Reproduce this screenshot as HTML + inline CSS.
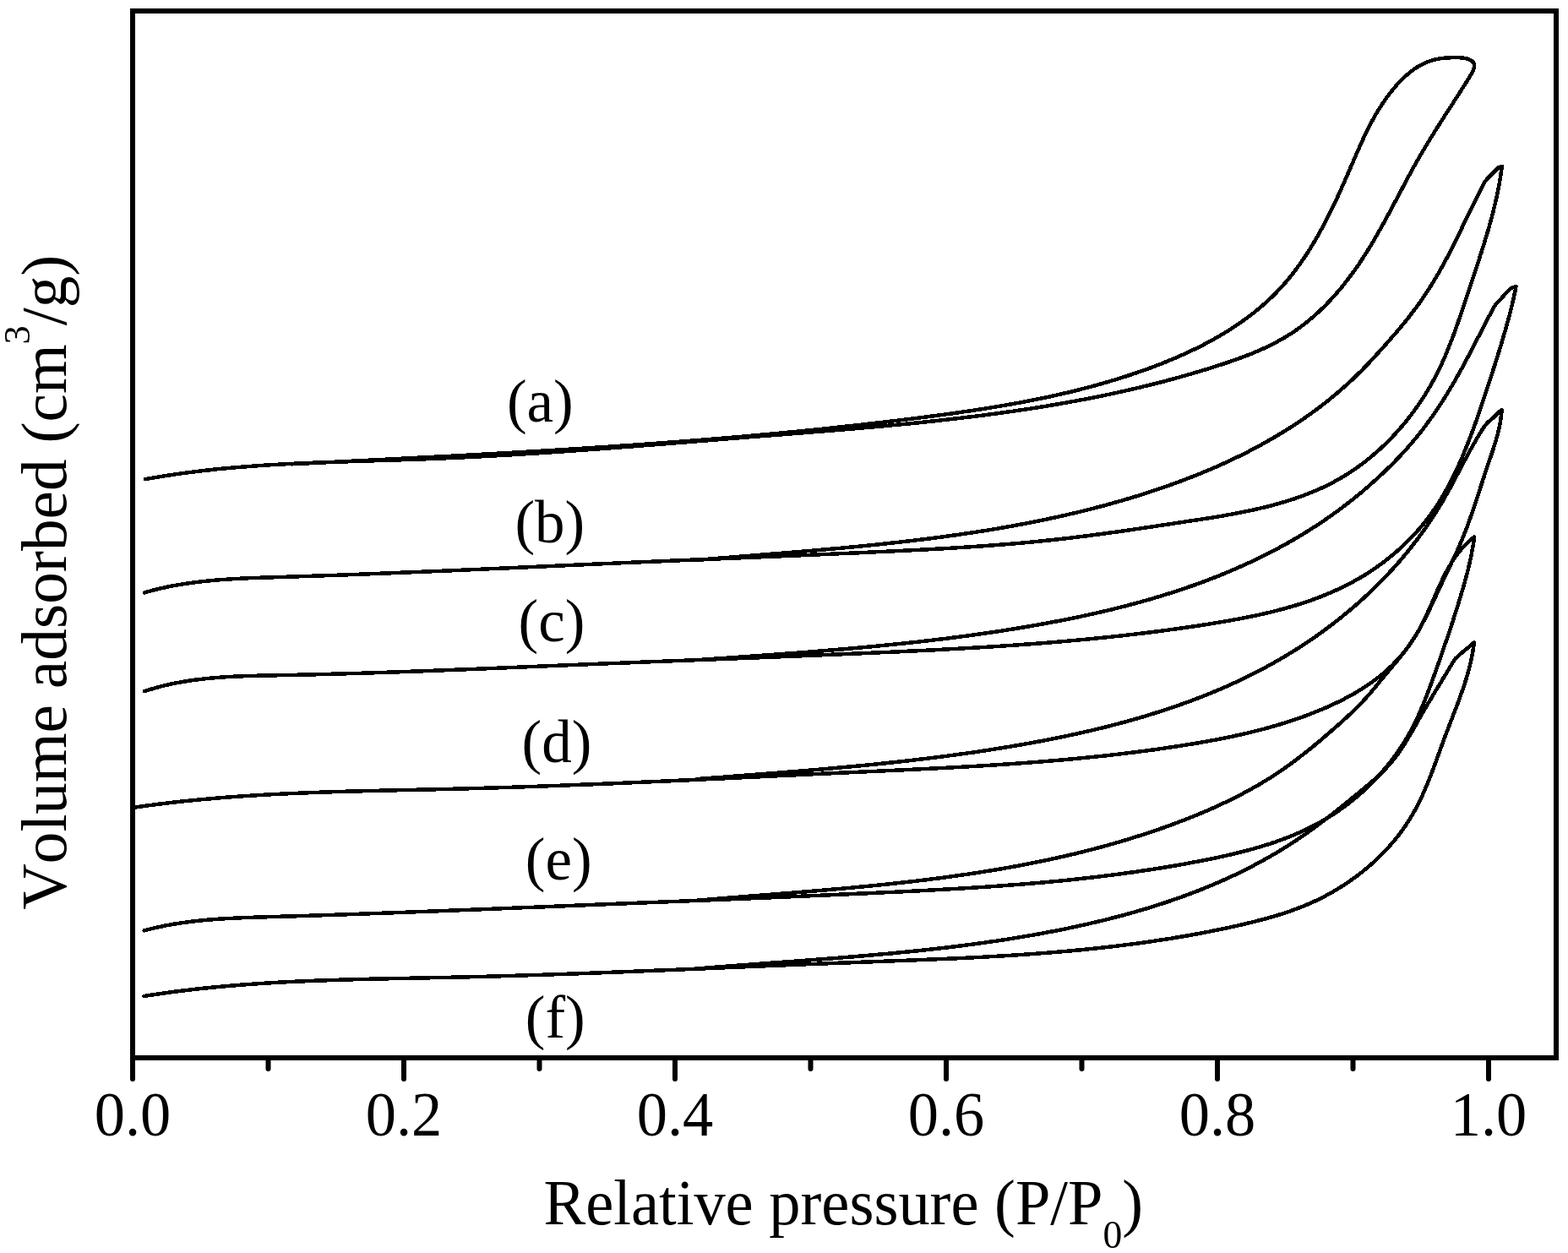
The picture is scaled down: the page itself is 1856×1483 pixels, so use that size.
<!DOCTYPE html>
<html><head><meta charset="utf-8"><title>Isotherms</title>
<style>html,body{margin:0;padding:0;background:#fff;width:1856px;height:1483px;overflow:hidden}svg{display:block}</style>
</head><body>
<svg width="1856" height="1483" viewBox="0 0 1856 1483">
<style>
text{font-family:"Liberation Serif","Times New Roman",serif;fill:#000;font-kerning:none;font-feature-settings:"kern" 0}
.t{font-size:72.5px}
.lb{font-size:71px}

</style>
<rect x="157" y="13" width="1685" height="1239" fill="none" stroke="#000" stroke-width="6"/>
<path d="M157.0 1252V1277 M317.5 1252V1265 M478.0 1252V1277 M638.5 1252V1265 M799.0 1252V1277 M959.5 1252V1265 M1120.0 1252V1277 M1280.5 1252V1265 M1441.0 1252V1277 M1601.5 1252V1265 M1762.0 1252V1277" stroke="#000" stroke-width="6" stroke-linecap="round" fill="none"/>
<text transform="translate(157.0 1344) scale(1 1.035)" text-anchor="middle" class="t">0.0</text>
<text transform="translate(478.0 1344) scale(1 1.035)" text-anchor="middle" class="t">0.2</text>
<text transform="translate(799.0 1344) scale(1 1.035)" text-anchor="middle" class="t">0.4</text>
<text transform="translate(1120.0 1344) scale(1 1.035)" text-anchor="middle" class="t">0.6</text>
<text transform="translate(1441.0 1344) scale(1 1.035)" text-anchor="middle" class="t">0.8</text>
<text transform="translate(1762.0 1344) scale(1 1.035)" text-anchor="middle" class="t">1.0</text>
<g fill="none" stroke="#000" stroke-width="4.5" stroke-linejoin="round" stroke-linecap="round" shape-rendering="crispEdges"><path d="M172.0 567.2C174.0 566.8 175.9 566.5 177.9 566.1C179.9 565.8 181.8 565.4 183.8 565.1C185.8 564.8 187.7 564.4 189.7 564.1C191.7 563.8 193.6 563.5 195.6 563.2C197.6 562.9 199.5 562.6 201.5 562.3C203.5 562.0 205.5 561.7 207.4 561.4C209.4 561.1 211.4 560.8 213.4 560.5C215.3 560.3 217.3 560.0 219.3 559.7C221.3 559.5 223.3 559.2 225.2 559.0C227.2 558.7 229.2 558.5 231.2 558.2C233.2 558.0 235.1 557.7 237.1 557.5C239.1 557.3 241.1 557.0 243.1 556.8C245.1 556.6 247.0 556.4 249.0 556.2C251.0 555.9 253.0 555.7 255.0 555.5C257.0 555.3 259.0 555.1 260.9 554.9C262.9 554.7 264.9 554.5 266.9 554.4C268.9 554.2 270.9 554.0 272.9 553.8C274.9 553.6 276.9 553.5 278.8 553.3C280.8 553.1 282.8 553.0 284.8 552.8C286.8 552.6 288.8 552.5 290.8 552.3C292.8 552.2 294.8 552.0 296.8 551.9C298.8 551.7 300.8 551.6 302.8 551.4C304.8 551.3 306.8 551.1 308.7 551.0C310.7 550.9 312.7 550.7 314.7 550.6C316.7 550.5 318.7 550.4 320.7 550.2C322.7 550.1 324.7 550.0 326.7 549.9C328.7 549.8 330.7 549.7 332.7 549.5C334.7 549.4 336.7 549.3 338.7 549.2C340.7 549.1 342.7 549.0 344.7 548.9C346.7 548.8 348.7 548.7 350.7 548.6C352.7 548.5 354.7 548.4 356.7 548.3C358.7 548.3 360.7 548.2 362.7 548.1C364.7 548.0 366.7 547.9 368.7 547.8C370.7 547.7 372.8 547.7 374.8 547.6C376.8 547.5 378.8 547.4 380.8 547.3C382.8 547.3 384.8 547.2 386.8 547.1C388.8 547.0 390.8 547.0 392.8 546.9C394.8 546.8 396.8 546.7 398.8 546.7C400.8 546.6 402.8 546.5 404.8 546.5C406.8 546.4 408.8 546.3 410.8 546.3C412.8 546.2 414.9 546.1 416.9 546.1C418.9 546.0 420.9 546.0 422.9 545.9C424.9 545.8 426.9 545.8 428.9 545.7C430.9 545.6 432.9 545.6 434.9 545.5C436.9 545.5 438.9 545.4 440.9 545.3C442.9 545.3 444.9 545.2 446.9 545.1C449.0 545.1 451.0 545.0 453.0 545.0C455.0 544.9 457.0 544.8 459.0 544.8C461.0 544.7 463.0 544.7 465.0 544.6C467.0 544.5 469.0 544.5 471.0 544.4C473.0 544.3 475.0 544.3 477.0 544.2C479.0 544.1 481.0 544.1 483.0 544.0C485.0 543.9 487.1 543.9 489.1 543.8C491.1 543.7 493.1 543.7 495.1 543.6C497.1 543.5 499.1 543.4 501.1 543.4C503.1 543.3 505.1 543.2 507.1 543.1C509.1 543.1 511.1 543.0 513.1 542.9C515.1 542.8 517.1 542.7 519.1 542.7C521.1 542.6 523.1 542.5 525.1 542.4C527.1 542.3 529.1 542.2 531.1 542.2C533.1 542.1 535.1 542.0 537.1 541.9C539.1 541.8 541.1 541.7 543.1 541.6C545.1 541.5 547.1 541.4 549.1 541.3C551.1 541.2 553.1 541.1 555.1 541.0C557.1 540.9 559.1 540.8 561.1 540.7C563.1 540.6 565.1 540.5 567.1 540.4C569.1 540.3 571.1 540.2 573.1 540.1C575.1 540.0 577.1 539.9 579.1 539.8C581.1 539.7 583.1 539.6 585.1 539.4C587.1 539.3 589.1 539.2 591.1 539.1C593.1 539.0 595.1 538.9 597.1 538.8C599.1 538.7 601.1 538.5 603.1 538.4C605.1 538.3 607.1 538.2 609.1 538.1C611.1 537.9 613.1 537.8 615.1 537.7C617.1 537.6 619.1 537.5 621.1 537.3C623.1 537.2 625.1 537.1 627.0 537.0C629.0 536.8 631.0 536.7 633.0 536.6C635.0 536.4 637.0 536.3 639.0 536.2C641.0 536.1 643.0 535.9 645.0 535.8C647.0 535.7 649.0 535.5 651.0 535.4C653.0 535.3 655.0 535.1 657.0 535.0C659.0 534.9 661.0 534.7 663.0 534.6C665.0 534.5 667.0 534.3 669.0 534.2C670.9 534.0 672.9 533.9 674.9 533.8C676.9 533.6 678.9 533.5 680.9 533.3C682.9 533.2 684.9 533.1 686.9 532.9C688.9 532.8 690.9 532.6 692.9 532.5C694.9 532.3 696.9 532.2 698.9 532.1C700.9 531.9 702.9 531.8 704.8 531.6C706.8 531.5 708.8 531.3 710.8 531.2C712.8 531.0 714.8 530.9 716.8 530.7C718.8 530.6 720.8 530.4 722.8 530.3C724.8 530.1 726.8 530.0 728.8 529.8C730.8 529.7 732.8 529.5 734.8 529.4C736.7 529.2 738.7 529.1 740.7 528.9C742.7 528.8 744.7 528.6 746.7 528.5C748.7 528.3 750.7 528.2 752.7 528.0C754.7 527.8 756.7 527.7 758.7 527.5C760.7 527.4 762.7 527.2 764.7 527.1C766.7 526.9 768.6 526.8 770.6 526.6C772.6 526.4 774.6 526.3 776.6 526.1C778.6 526.0 780.6 525.8 782.6 525.7C784.6 525.5 786.6 525.3 788.6 525.2C790.6 525.0 792.6 524.9 794.6 524.7C796.6 524.6 798.6 524.4 800.5 524.2C802.5 524.1 804.5 523.9 806.5 523.8C808.5 523.6 810.5 523.4 812.5 523.3C814.5 523.1 816.5 523.0 818.5 522.8C820.5 522.6 822.5 522.5 824.5 522.3C826.5 522.2 828.5 522.0 830.5 521.8C832.5 521.7 834.4 521.5 836.4 521.4C838.4 521.2 840.4 521.0 842.4 520.9C844.4 520.7 846.4 520.5 848.4 520.4C850.4 520.2 852.4 520.1 854.4 519.9C856.4 519.7 858.4 519.6 860.4 519.4C862.4 519.3 864.4 519.1 866.4 518.9C868.4 518.8 870.4 518.6 872.4 518.5C874.4 518.3 876.4 518.1 878.3 518.0C880.3 517.8 882.3 517.7 884.3 517.5C886.3 517.3 888.3 517.2 890.3 517.0C892.3 516.9 894.3 516.7 896.3 516.5C898.3 516.4 900.3 516.2 902.3 516.1C904.3 515.9 906.3 515.8 908.3 515.6C910.3 515.4 912.3 515.3 914.3 515.1C916.3 515.0 918.3 514.8 920.3 514.7C922.3 514.5 924.3 514.3 926.3 514.2C928.3 514.0 930.3 513.9 932.3 513.7C934.3 513.6 936.3 513.4 938.3 513.2C940.3 513.1 942.3 512.9 944.3 512.8C946.3 512.6 948.3 512.4 950.3 512.3C952.3 512.1 954.3 512.0 956.3 511.8C958.3 511.6 960.3 511.5 962.3 511.3C964.3 511.2 966.3 511.0 968.2 510.8C970.2 510.7 972.2 510.5 974.2 510.4C976.2 510.2 978.2 510.0 980.2 509.9C982.2 509.7 984.2 509.5 986.2 509.4C988.2 509.2 990.2 509.1 992.2 508.9C994.2 508.7 996.2 508.6 998.2 508.4C1000.2 508.2 1002.2 508.1 1004.2 507.9C1006.2 507.7 1008.2 507.5 1010.2 507.4C1012.2 507.2 1014.2 507.0 1016.2 506.9C1018.2 506.7 1020.2 506.5 1022.2 506.3C1024.2 506.2 1026.2 506.0 1028.2 505.8C1030.2 505.6 1032.2 505.5 1034.2 505.3C1036.2 505.1 1038.2 504.9 1040.2 504.7C1042.2 504.6 1044.2 504.4 1046.2 504.2C1048.2 504.0 1050.2 503.8 1052.2 503.6C1054.2 503.5 1056.1 503.3 1058.1 503.1C1060.1 502.9 1062.1 502.7 1064.1 502.5C1066.1 502.3 1068.1 502.1 1070.1 501.9C1072.1 501.7 1074.1 501.6 1076.1 501.4C1078.1 501.2 1080.1 501.0 1082.1 500.8C1084.1 500.6 1086.1 500.4 1088.1 500.2C1090.1 500.0 1092.0 499.7 1094.0 499.5C1096.0 499.3 1098.0 499.1 1100.0 498.9C1102.0 498.7 1104.0 498.5 1106.0 498.3C1108.0 498.1 1110.0 497.9 1112.0 497.6C1114.0 497.4 1115.9 497.2 1117.9 497.0C1119.9 496.8 1121.9 496.5 1123.9 496.3C1125.9 496.1 1127.9 495.9 1129.9 495.6C1131.9 495.4 1133.9 495.2 1135.8 494.9C1137.8 494.7 1139.8 494.5 1141.8 494.2C1143.8 494.0 1145.8 493.7 1147.8 493.5C1149.8 493.3 1151.7 493.0 1153.7 492.8C1155.7 492.5 1157.7 492.3 1159.7 492.0C1161.7 491.8 1163.7 491.5 1165.6 491.3C1167.6 491.0 1169.6 490.7 1171.6 490.5C1173.6 490.2 1175.6 490.0 1177.5 489.7C1179.5 489.4 1181.5 489.2 1183.5 488.9C1185.5 488.6 1187.5 488.3 1189.4 488.1C1191.4 487.8 1193.4 487.5 1195.4 487.2C1197.4 486.9 1199.3 486.7 1201.3 486.4C1203.3 486.1 1205.3 485.8 1207.2 485.5C1209.2 485.2 1211.2 484.9 1213.2 484.6C1215.2 484.3 1217.1 484.0 1219.1 483.7C1221.1 483.4 1223.1 483.1 1225.0 482.8C1227.0 482.5 1229.0 482.2 1231.0 481.8C1232.9 481.5 1234.9 481.2 1236.9 480.9C1238.8 480.6 1240.8 480.2 1242.8 479.9C1244.8 479.6 1246.7 479.2 1248.7 478.9C1250.7 478.6 1252.6 478.2 1254.6 477.9C1256.6 477.5 1258.5 477.2 1260.5 476.9C1262.5 476.5 1264.4 476.2 1266.4 475.8C1268.4 475.4 1270.3 475.1 1272.3 474.7C1274.3 474.4 1276.2 474.0 1278.2 473.6C1280.2 473.2 1282.1 472.9 1284.1 472.5C1286.1 472.1 1288.0 471.7 1290.0 471.4C1291.9 471.0 1293.9 470.6 1295.9 470.2C1297.8 469.8 1299.8 469.4 1301.7 469.0C1303.7 468.6 1305.7 468.2 1307.6 467.8C1309.6 467.4 1311.5 467.0 1313.5 466.6C1315.4 466.1 1317.4 465.7 1319.3 465.3C1321.3 464.9 1323.2 464.5 1325.2 464.0C1327.1 463.6 1329.1 463.2 1331.1 462.7C1333.0 462.3 1335.0 461.8 1336.9 461.4C1338.8 460.9 1340.8 460.5 1342.7 460.0C1344.7 459.6 1346.6 459.1 1348.6 458.7C1350.5 458.2 1352.5 457.7 1354.4 457.2C1356.4 456.8 1358.3 456.3 1360.2 455.8C1362.2 455.3 1364.1 454.9 1366.1 454.4C1368.0 453.9 1370.0 453.4 1371.9 452.9C1373.8 452.4 1375.8 451.9 1377.7 451.4C1379.6 450.9 1381.6 450.3 1383.5 449.8C1385.5 449.3 1387.4 448.8 1389.3 448.3C1391.3 447.7 1393.2 447.2 1395.1 446.7C1397.1 446.1 1399.0 445.6 1400.9 445.0C1402.8 444.5 1404.8 443.9 1406.7 443.4C1408.6 442.8 1410.6 442.3 1412.5 441.7C1414.4 441.1 1416.3 440.6 1418.3 440.0C1420.2 439.4 1422.1 438.8 1424.0 438.3C1425.9 437.7 1427.9 437.1 1429.8 436.5C1431.7 435.9 1433.6 435.3 1435.5 434.7C1437.5 434.1 1439.4 433.5 1441.3 432.8C1443.2 432.2 1445.1 431.6 1447.0 431.0C1449.0 430.4 1450.9 429.7 1452.8 429.1C1454.7 428.4 1456.6 427.8 1458.5 427.1C1460.4 426.5 1462.3 425.8 1464.2 425.1C1466.1 424.4 1468.0 423.8 1469.8 423.0C1471.7 422.3 1473.6 421.6 1475.5 420.9C1477.3 420.2 1479.2 419.5 1481.1 418.7C1482.9 418.0 1484.8 417.2 1486.6 416.4C1488.5 415.6 1490.3 414.8 1492.1 414.0C1493.9 413.2 1495.8 412.4 1497.6 411.6C1499.4 410.7 1501.2 409.9 1503.0 409.0C1504.7 408.1 1506.5 407.2 1508.3 406.3C1510.0 405.4 1511.8 404.5 1513.5 403.5C1515.3 402.6 1517.0 401.6 1518.7 400.6C1520.4 399.6 1522.1 398.6 1523.8 397.5C1525.5 396.5 1527.2 395.4 1528.9 394.4C1530.5 393.3 1532.2 392.2 1533.8 391.0C1535.4 389.9 1537.0 388.8 1538.6 387.6C1540.2 386.4 1541.8 385.2 1543.4 384.0C1545.0 382.8 1546.5 381.5 1548.1 380.3C1549.6 379.0 1551.1 377.7 1552.7 376.4C1554.2 375.1 1555.7 373.8 1557.2 372.5C1558.6 371.2 1560.1 369.8 1561.6 368.4C1563.0 367.1 1564.5 365.7 1565.9 364.3C1567.3 362.9 1568.8 361.4 1570.2 360.0C1571.6 358.6 1573.0 357.1 1574.3 355.6C1575.7 354.2 1577.1 352.7 1578.4 351.2C1579.8 349.7 1581.1 348.2 1582.4 346.7C1583.7 345.1 1585.0 343.6 1586.3 342.1C1587.6 340.5 1588.9 339.0 1590.2 337.4C1591.4 335.8 1592.7 334.2 1593.9 332.6C1595.2 331.0 1596.4 329.4 1597.6 327.8C1598.8 326.2 1600.0 324.6 1601.2 322.9C1602.4 321.3 1603.6 319.7 1604.7 318.0C1605.9 316.4 1607.0 314.7 1608.2 313.1C1609.3 311.4 1610.4 309.7 1611.5 308.0C1612.6 306.4 1613.7 304.7 1614.8 303.0C1615.9 301.3 1617.0 299.6 1618.0 297.9C1619.1 296.2 1620.2 294.5 1621.2 292.7C1622.3 291.0 1623.3 289.3 1624.3 287.6C1625.4 285.8 1626.4 284.1 1627.4 282.4C1628.4 280.6 1629.4 278.9 1630.4 277.2C1631.4 275.4 1632.4 273.7 1633.4 271.9C1634.4 270.2 1635.4 268.4 1636.3 266.7C1637.3 264.9 1638.3 263.1 1639.3 261.4C1640.2 259.6 1641.2 257.9 1642.1 256.1C1643.1 254.3 1644.0 252.6 1645.0 250.8C1645.9 249.0 1646.9 247.3 1647.8 245.5C1648.8 243.7 1649.7 241.9 1650.6 240.2C1651.6 238.4 1652.5 236.6 1653.5 234.9C1654.4 233.1 1655.3 231.3 1656.3 229.6C1657.2 227.8 1658.1 226.0 1659.1 224.3C1660.0 222.5 1660.9 220.7 1661.9 219.0C1662.8 217.2 1663.8 215.5 1664.7 213.7C1665.6 212.0 1666.6 210.2 1667.5 208.5C1668.5 206.7 1669.4 205.0 1670.4 203.2C1671.3 201.5 1672.3 199.7 1673.2 198.0C1674.2 196.3 1675.2 194.5 1676.1 192.8C1677.1 191.1 1678.1 189.4 1679.1 187.7C1680.0 186.0 1681.0 184.2 1682.0 182.5C1683.0 180.8 1684.0 179.1 1685.0 177.4C1686.0 175.8 1687.0 174.1 1688.0 172.4C1689.1 170.7 1690.1 169.0 1691.1 167.3C1692.1 165.6 1693.2 164.0 1694.2 162.3C1695.2 160.6 1696.3 158.9 1697.3 157.3C1698.4 155.6 1699.4 153.9 1700.5 152.2C1701.5 150.5 1702.6 148.9 1703.7 147.2C1704.7 145.5 1705.8 143.8 1706.9 142.1C1708.0 140.5 1709.0 138.8 1710.1 137.1C1711.2 135.4 1712.3 133.7 1713.4 132.0C1714.5 130.3 1715.6 128.6 1716.7 126.9C1717.8 125.2 1718.9 123.5 1720.0 121.8C1721.1 120.0 1722.2 118.3 1723.3 116.6C1724.4 114.8 1725.6 113.1 1726.7 111.4C1727.8 109.6 1728.9 107.8 1730.1 106.1C1731.2 104.3 1732.3 102.5 1733.5 100.7C1734.6 99.0 1735.7 97.2 1736.9 95.4C1738.0 93.5 1739.2 91.7 1740.2 89.9C1741.3 88.2 1742.3 86.4 1743.1 84.6C1743.8 83.0 1744.6 81.3 1744.8 79.7C1745.0 78.2 1745.0 76.7 1744.6 75.4C1744.1 74.1 1743.1 72.9 1741.9 72.0C1740.7 71.0 1738.9 70.2 1737.2 69.7C1735.4 69.0 1733.2 68.7 1731.2 68.5C1729.1 68.2 1726.8 68.2 1724.6 68.2C1722.4 68.1 1720.3 68.2 1718.1 68.2C1716.0 68.3 1713.9 68.4 1711.8 68.5C1709.8 68.7 1707.7 68.9 1705.7 69.2C1703.7 69.4 1701.8 69.8 1699.8 70.2C1697.9 70.6 1696.0 71.1 1694.1 71.7C1692.2 72.3 1690.4 73.0 1688.6 73.7C1686.8 74.5 1685.0 75.3 1683.2 76.2C1681.5 77.1 1679.8 78.1 1678.1 79.1C1676.4 80.2 1674.7 81.3 1673.1 82.4C1671.5 83.6 1669.9 84.8 1668.3 86.1C1666.8 87.4 1665.3 88.7 1663.8 90.0C1662.2 91.4 1660.8 92.8 1659.3 94.2C1657.9 95.7 1656.5 97.1 1655.1 98.6C1653.7 100.1 1652.4 101.7 1651.1 103.2C1649.7 104.7 1648.5 106.3 1647.2 107.9C1645.9 109.5 1644.7 111.0 1643.5 112.6C1642.3 114.2 1641.1 115.9 1640.0 117.5C1638.8 119.1 1637.7 120.8 1636.6 122.4C1635.5 124.1 1634.4 125.7 1633.4 127.4C1632.3 129.1 1631.3 130.8 1630.2 132.4C1629.2 134.1 1628.2 135.8 1627.3 137.6C1626.3 139.3 1625.3 141.0 1624.4 142.7C1623.4 144.5 1622.5 146.2 1621.6 148.0C1620.7 149.7 1619.8 151.5 1618.9 153.2C1618.0 155.0 1617.2 156.8 1616.3 158.6C1615.5 160.3 1614.6 162.1 1613.8 163.9C1612.9 165.7 1612.1 167.5 1611.3 169.3C1610.5 171.1 1609.7 172.9 1608.9 174.8C1608.0 176.6 1607.2 178.4 1606.4 180.2C1605.6 182.0 1604.9 183.9 1604.1 185.7C1603.3 187.5 1602.5 189.4 1601.7 191.2C1600.9 193.1 1600.1 194.9 1599.3 196.7C1598.5 198.6 1597.7 200.4 1596.9 202.3C1596.1 204.1 1595.4 206.0 1594.5 207.8C1593.7 209.7 1592.9 211.5 1592.1 213.4C1591.3 215.2 1590.5 217.1 1589.7 218.9C1588.8 220.8 1588.0 222.6 1587.2 224.5C1586.3 226.3 1585.5 228.2 1584.7 230.0C1583.8 231.8 1583.0 233.7 1582.1 235.5C1581.2 237.4 1580.4 239.2 1579.5 241.0C1578.6 242.9 1577.8 244.7 1576.9 246.5C1576.0 248.4 1575.1 250.2 1574.2 252.0C1573.3 253.8 1572.4 255.6 1571.4 257.4C1570.5 259.2 1569.6 261.0 1568.7 262.8C1567.7 264.6 1566.8 266.4 1565.8 268.2C1564.9 270.0 1563.9 271.8 1562.9 273.5C1561.9 275.3 1561.0 277.1 1560.0 278.8C1559.0 280.6 1558.0 282.3 1556.9 284.1C1555.9 285.8 1554.9 287.6 1553.8 289.3C1552.8 291.0 1551.8 292.7 1550.7 294.4C1549.6 296.1 1548.6 297.8 1547.5 299.5C1546.4 301.2 1545.3 302.8 1544.2 304.5C1543.1 306.2 1541.9 307.8 1540.8 309.5C1539.7 311.1 1538.5 312.7 1537.3 314.3C1536.2 315.9 1535.0 317.5 1533.8 319.1C1532.6 320.7 1531.4 322.3 1530.2 323.9C1529.0 325.4 1527.7 327.0 1526.5 328.5C1525.2 330.0 1524.0 331.5 1522.7 333.1C1521.4 334.6 1520.1 336.0 1518.8 337.5C1517.5 339.0 1516.2 340.4 1514.8 341.9C1513.5 343.3 1512.1 344.7 1510.7 346.2C1509.4 347.6 1508.0 349.0 1506.6 350.3C1505.2 351.7 1503.7 353.1 1502.3 354.4C1500.9 355.8 1499.4 357.1 1497.9 358.4C1496.5 359.7 1495.0 361.0 1493.5 362.3C1492.0 363.6 1490.5 364.9 1489.0 366.1C1487.5 367.4 1485.9 368.6 1484.4 369.9C1482.8 371.1 1481.3 372.3 1479.7 373.5C1478.1 374.7 1476.6 375.9 1475.0 377.1C1473.4 378.2 1471.8 379.4 1470.1 380.5C1468.5 381.7 1466.9 382.8 1465.2 383.9C1463.6 385.0 1461.9 386.1 1460.3 387.2C1458.6 388.3 1456.9 389.4 1455.3 390.5C1453.6 391.5 1451.9 392.6 1450.2 393.6C1448.5 394.7 1446.8 395.7 1445.0 396.7C1443.3 397.7 1441.6 398.7 1439.9 399.7C1438.1 400.7 1436.4 401.7 1434.6 402.7C1432.8 403.6 1431.1 404.6 1429.3 405.5C1427.5 406.5 1425.7 407.4 1424.0 408.3C1422.2 409.3 1420.4 410.2 1418.6 411.1C1416.8 412.0 1415.0 412.9 1413.1 413.7C1411.3 414.6 1409.5 415.5 1407.7 416.3C1405.8 417.2 1404.0 418.0 1402.2 418.9C1400.3 419.7 1398.5 420.5 1396.6 421.3C1394.8 422.2 1392.9 423.0 1391.0 423.8C1389.2 424.6 1387.3 425.3 1385.4 426.1C1383.6 426.9 1381.7 427.7 1379.8 428.4C1377.9 429.2 1376.1 429.9 1374.2 430.7C1372.3 431.4 1370.4 432.1 1368.5 432.8C1366.6 433.6 1364.7 434.3 1362.8 435.0C1360.9 435.7 1359.0 436.4 1357.1 437.1C1355.2 437.8 1353.3 438.4 1351.4 439.1C1349.5 439.8 1347.6 440.4 1345.7 441.1C1343.8 441.7 1341.8 442.4 1339.9 443.0C1338.0 443.7 1336.1 444.3 1334.2 444.9C1332.3 445.6 1330.4 446.2 1328.4 446.8C1326.5 447.4 1324.6 448.0 1322.7 448.6C1320.8 449.2 1318.8 449.8 1316.9 450.3C1315.0 450.9 1313.1 451.5 1311.1 452.1C1309.2 452.6 1307.3 453.2 1305.4 453.7C1303.4 454.3 1301.5 454.8 1299.6 455.4C1297.6 455.9 1295.7 456.4 1293.8 457.0C1291.8 457.5 1289.9 458.0 1288.0 458.5C1286.0 459.0 1284.1 459.5 1282.2 460.0C1280.2 460.5 1278.3 461.0 1276.3 461.5C1274.4 462.0 1272.5 462.5 1270.5 463.0C1268.6 463.4 1266.6 463.9 1264.7 464.4C1262.7 464.8 1260.8 465.3 1258.8 465.7C1256.9 466.2 1255.0 466.6 1253.0 467.1C1251.1 467.5 1249.1 468.0 1247.2 468.4C1245.2 468.8 1243.2 469.3 1241.3 469.7C1239.3 470.1 1237.4 470.5 1235.4 470.9C1233.5 471.3 1231.5 471.7 1229.6 472.1C1227.6 472.5 1225.7 472.9 1223.7 473.3C1221.7 473.7 1219.8 474.1 1217.8 474.5C1215.9 474.9 1213.9 475.2 1211.9 475.6C1210.0 476.0 1208.0 476.3 1206.1 476.7C1204.1 477.1 1202.1 477.4 1200.2 477.8C1198.2 478.1 1196.2 478.5 1194.3 478.8C1192.3 479.2 1190.3 479.5 1188.4 479.9C1186.4 480.2 1184.4 480.5 1182.5 480.9C1180.5 481.2 1178.5 481.5 1176.6 481.9C1174.6 482.2 1172.6 482.5 1170.6 482.8C1168.7 483.1 1166.7 483.4 1164.7 483.8C1162.8 484.1 1160.8 484.4 1158.8 484.7C1156.8 485.0 1154.9 485.3 1152.9 485.6C1150.9 485.9 1148.9 486.2 1147.0 486.5C1145.0 486.8 1143.0 487.1 1141.0 487.3C1139.1 487.6 1137.1 487.9 1135.1 488.2C1133.1 488.5 1131.1 488.8 1129.2 489.0C1127.2 489.3 1125.2 489.6 1123.2 489.9C1121.2 490.1 1119.3 490.4 1117.3 490.7C1115.3 490.9 1113.3 491.2 1111.3 491.5C1109.4 491.7 1107.4 492.0 1105.4 492.3C1103.4 492.5 1101.4 492.8 1099.5 493.0C1097.5 493.3 1095.5 493.5 1093.5 493.8C1091.5 494.1 1089.5 494.3 1087.6 494.6C1085.6 494.8 1083.6 495.1 1081.6 495.3C1079.6 495.6 1077.6 495.8 1075.7 496.1C1073.7 496.3 1071.7 496.5 1069.7 496.8C1067.7 497.0 1065.7 497.3 1063.8 497.5C1061.8 497.8 1059.8 498.0 1057.8 498.2C1055.8 498.5 1053.8 498.7 1051.8 499.0C1049.9 499.2 1047.9 499.4 1045.9 499.7C1043.9 499.9 1041.9 500.1 1039.9 500.4C1037.9 500.6 1036.0 500.8 1034.0 501.0C1032.0 501.3 1030.0 501.5 1028.0 501.7C1026.0 502.0 1024.0 502.2 1022.0 502.4C1020.1 502.6 1018.1 502.9 1016.1 503.1C1014.1 503.3 1012.1 503.5 1010.1 503.7C1008.1 504.0 1006.1 504.2 1004.2 504.4C1002.2 504.6 1000.2 504.8 998.2 505.0C996.2 505.3 994.2 505.5 992.2 505.7C990.2 505.9 988.2 506.1 986.2 506.3C984.3 506.5 982.3 506.7 980.3 506.9C978.3 507.2 976.3 507.4 974.3 507.6C972.3 507.8 970.3 508.0 968.3 508.2C966.3 508.4 964.4 508.6 962.4 508.8C960.4 509.0 958.4 509.2 956.4 509.4C954.4 509.6 952.4 509.8 950.4 510.0C948.4 510.2 946.4 510.4 944.4 510.6C942.4 510.8 940.5 511.0 938.5 511.2C936.5 511.4 934.5 511.5 932.5 511.7C930.5 511.9 928.5 512.1 926.5 512.3C924.5 512.5 922.5 512.7 920.5 512.9C918.5 513.1 916.5 513.2 914.5 513.4C912.6 513.6 910.6 513.8 908.6 514.0C906.6 514.2 904.6 514.3 902.6 514.5C900.6 514.7 898.6 514.9 896.6 515.1C894.6 515.2 892.6 515.4 890.6 515.6C888.6 515.8 886.6 516.0 884.6 516.1C882.6 516.3 880.6 516.5 878.6 516.7C876.7 516.8 874.7 517.0 872.7 517.2C870.7 517.3 868.7 517.5 866.7 517.7C864.7 517.9 862.7 518.0 860.7 518.2C858.7 518.4 856.7 518.5 854.7 518.7C852.7 518.9 850.7 519.0 848.7 519.2C846.7 519.4 844.7 519.5 842.7 519.7C840.7 519.9 838.7 520.0 836.7 520.2C834.7 520.3 832.7 520.5 830.7 520.7C828.7 520.8 826.7 521.0 824.8 521.1C822.8 521.3 820.8 521.5 818.8 521.6C816.8 521.8 814.8 521.9 812.8 522.1C810.8 522.2 808.8 522.4 806.8 522.5C804.8 522.7 802.8 522.8 800.8 523.0C798.8 523.1 796.8 523.3 794.8 523.4C792.8 523.6 790.8 523.7 788.8 523.9C786.8 524.0 784.8 524.2 782.8 524.3C780.8 524.5 778.8 524.6 776.8 524.8C774.8 524.9 772.8 525.1 770.8 525.2C768.8 525.4 766.8 525.5 764.8 525.6C762.8 525.8 760.8 525.9 758.8 526.1C756.8 526.2 754.8 526.4 752.8 526.5C750.8 526.6 748.8 526.8 746.8 526.9C744.8 527.1 742.8 527.2 740.8 527.3C738.8 527.5 736.8 527.6 734.8 527.7C732.8 527.9 730.8 528.0 728.8 528.2C726.8 528.3 724.8 528.4 722.8 528.6C720.8 528.7 718.8 528.8 716.8 529.0C714.8 529.1 712.8 529.2 710.8 529.4C708.8 529.5 706.8 529.6 704.8 529.7C702.8 529.9 700.8 530.0 698.8 530.1C696.8 530.3 694.8 530.4 692.8 530.5C690.8 530.6 688.8 530.8 686.8 530.9C684.8 531.0 682.8 531.2 680.8 531.3C678.8 531.4 676.8 531.5 674.8 531.7C672.8 531.8 670.8 531.9 668.8 532.0C666.8 532.1 664.8 532.3 662.8 532.4C660.8 532.5 658.8 532.6 656.8 532.8C654.8 532.9 652.8 533.0 650.8 533.1C648.8 533.2 646.8 533.4 644.8 533.5C642.8 533.6 640.8 533.7 638.8 533.8C636.8 534.0 634.8 534.1 632.8 534.2C630.8 534.3 628.8 534.4 626.8 534.5C624.8 534.7 622.8 534.8 620.8 534.9C618.8 535.0 616.8 535.1 614.8 535.2C612.8 535.4 610.8 535.5 608.8 535.6C606.8 535.7 604.8 535.8 602.8 535.9C600.8 536.0 598.8 536.2 596.8 536.3C594.8 536.4 592.8 536.5 590.8 536.6C588.8 536.7 586.8 536.8 584.8 536.9C582.8 537.1 580.8 537.2 578.8 537.3C576.8 537.4 574.8 537.5 572.8 537.6C570.8 537.7 568.8 537.8 566.8 537.9C564.8 538.0 562.8 538.2 560.8 538.3C558.8 538.4 556.8 538.5 554.8 538.6C552.8 538.7 550.8 538.8 548.8 538.9C546.8 539.0 544.8 539.1 542.8 539.2C540.8 539.3 538.8 539.4 536.8 539.6C534.8 539.7 532.8 539.8 530.8 539.9C528.8 540.0 526.8 540.1 524.8 540.2C522.8 540.3 520.8 540.4 518.8 540.5C516.8 540.6 514.8 540.7 512.8 540.8C510.8 540.9 508.8 541.0 506.8 541.1C504.8 541.2 502.8 541.3 500.8 541.4C498.8 541.5 496.8 541.6 494.8 541.7C492.8 541.9 490.8 542.0 488.8 542.1C486.8 542.2 484.8 542.3 482.8 542.4C480.8 542.5 478.8 542.6 476.8 542.7C474.8 542.8 472.8 542.9 470.8 543.0C468.8 543.1 466.8 543.2 464.8 543.3C462.8 543.4 460.8 543.5 458.8 543.6C456.8 543.7 454.8 543.8 452.8 543.9C450.8 544.0 448.8 544.1 446.8 544.2C444.8 544.3 442.8 544.4 440.8 544.5C438.8 544.6 436.8 544.7 434.8 544.8C432.8 544.9 430.8 545.0 428.8 545.1C426.8 545.2 424.9 545.3 422.9 545.4C420.9 545.5 418.9 545.6 416.9 545.7C414.9 545.8 412.9 545.9 410.9 546.0C408.9 546.1 406.9 546.2 404.9 546.3C402.9 546.4 400.9 546.5 398.9 546.6C396.9 546.7 394.9 546.8 392.9 546.9C390.9 547.0 388.9 547.1 386.9 547.2C384.9 547.3 382.9 547.4 380.9 547.5C378.9 547.6 376.9 547.7 374.9 547.8C372.9 547.9 370.9 548.0 368.9 548.1C366.9 548.2 365.0 548.3 363.0 548.4C361.0 548.5 359.0 548.6 357.0 548.7C355.0 548.8 353.0 548.9 351.0 549.0C349.0 549.1 347.0 549.2 345.0 549.3"/><path d="M170.9 701.4C172.8 700.8 174.8 700.3 176.7 699.8C178.7 699.2 180.6 698.7 182.6 698.2C184.5 697.7 186.5 697.3 188.4 696.8C190.4 696.3 192.3 695.9 194.3 695.5C196.2 695.0 198.2 694.6 200.2 694.2C202.1 693.8 204.1 693.5 206.1 693.1C208.0 692.7 210.0 692.4 212.0 692.1C213.9 691.7 215.9 691.4 217.9 691.1C219.8 690.8 221.8 690.5 223.8 690.2C225.8 689.9 227.7 689.7 229.7 689.4C231.7 689.1 233.7 688.9 235.7 688.7C237.6 688.4 239.6 688.2 241.6 688.0C243.6 687.8 245.6 687.6 247.6 687.4C249.5 687.2 251.5 687.0 253.5 686.8C255.5 686.7 257.5 686.5 259.5 686.3C261.5 686.2 263.5 686.0 265.5 685.9C267.5 685.8 269.5 685.6 271.5 685.5C273.4 685.4 275.4 685.2 277.4 685.1C279.4 685.0 281.4 684.9 283.4 684.8C285.4 684.7 287.4 684.6 289.4 684.5C291.4 684.4 293.4 684.3 295.4 684.2C297.4 684.2 299.4 684.1 301.4 684.0C303.4 683.9 305.4 683.9 307.4 683.8C309.4 683.7 311.4 683.6 313.5 683.6C315.5 683.5 317.5 683.5 319.5 683.4C321.5 683.3 323.5 683.3 325.5 683.2C327.5 683.1 329.5 683.1 331.5 683.0C333.5 683.0 335.5 682.9 337.5 682.8C339.5 682.8 341.5 682.7 343.5 682.6C345.5 682.6 347.5 682.5 349.5 682.4C351.5 682.4 353.5 682.3 355.5 682.2C357.5 682.2 359.6 682.1 361.6 682.0C363.6 682.0 365.6 681.9 367.6 681.8C369.6 681.8 371.6 681.7 373.6 681.6C375.6 681.6 377.6 681.5 379.6 681.4C381.6 681.4 383.6 681.3 385.6 681.2C387.6 681.1 389.6 681.1 391.6 681.0C393.6 680.9 395.6 680.9 397.6 680.8C399.6 680.7 401.6 680.6 403.7 680.6C405.7 680.5 407.7 680.4 409.7 680.3C411.7 680.3 413.7 680.2 415.7 680.1C417.7 680.0 419.7 680.0 421.7 679.9C423.7 679.8 425.7 679.7 427.7 679.7C429.7 679.6 431.7 679.5 433.7 679.4C435.7 679.3 437.7 679.3 439.7 679.2C441.7 679.1 443.7 679.0 445.7 679.0C447.8 678.9 449.8 678.8 451.8 678.7C453.8 678.6 455.8 678.6 457.8 678.5C459.8 678.4 461.8 678.3 463.8 678.2C465.8 678.2 467.8 678.1 469.8 678.0C471.8 677.9 473.8 677.8 475.8 677.7C477.8 677.7 479.8 677.6 481.8 677.5C483.8 677.4 485.8 677.3 487.8 677.2C489.8 677.2 491.8 677.1 493.8 677.0C495.9 676.9 497.9 676.8 499.9 676.7C501.9 676.7 503.9 676.6 505.9 676.5C507.9 676.4 509.9 676.3 511.9 676.2C513.9 676.1 515.9 676.1 517.9 676.0C519.9 675.9 521.9 675.8 523.9 675.7C525.9 675.6 527.9 675.5 529.9 675.5C531.9 675.4 533.9 675.3 535.9 675.2C537.9 675.1 539.9 675.0 541.9 674.9C543.9 674.8 545.9 674.8 548.0 674.7C550.0 674.6 552.0 674.5 554.0 674.4C556.0 674.3 558.0 674.2 560.0 674.1C562.0 674.0 564.0 674.0 566.0 673.9C568.0 673.8 570.0 673.7 572.0 673.6C574.0 673.5 576.0 673.4 578.0 673.3C580.0 673.2 582.0 673.2 584.0 673.1C586.0 673.0 588.0 672.9 590.0 672.8C592.0 672.7 594.0 672.6 596.0 672.5C598.0 672.4 600.0 672.3 602.0 672.3C604.0 672.2 606.0 672.1 608.0 672.0C610.0 671.9 612.1 671.8 614.1 671.7C616.1 671.6 618.1 671.5 620.1 671.4C622.1 671.4 624.1 671.3 626.1 671.2C628.1 671.1 630.1 671.0 632.1 670.9C634.1 670.8 636.1 670.7 638.1 670.6C640.1 670.5 642.1 670.4 644.1 670.4C646.1 670.3 648.1 670.2 650.1 670.1C652.1 670.0 654.1 669.9 656.1 669.8C658.1 669.7 660.1 669.6 662.1 669.5C664.1 669.5 666.1 669.4 668.1 669.3C670.1 669.2 672.1 669.1 674.1 669.0C676.1 668.9 678.1 668.8 680.1 668.7C682.1 668.6 684.1 668.6 686.1 668.5C688.1 668.4 690.1 668.3 692.1 668.2C694.1 668.1 696.1 668.0 698.1 667.9C700.1 667.8 702.1 667.7 704.1 667.7C706.1 667.6 708.1 667.5 710.1 667.4C712.1 667.3 714.1 667.2 716.1 667.1C718.1 667.0 720.1 666.9 722.1 666.9C724.1 666.8 726.1 666.7 728.1 666.6C730.1 666.5 732.1 666.4 734.1 666.3C736.1 666.2 738.1 666.2 740.1 666.1C742.1 666.0 744.1 665.9 746.1 665.8C748.1 665.7 750.1 665.6 752.1 665.5C754.1 665.5 756.1 665.4 758.1 665.3C760.1 665.2 762.1 665.1 764.1 665.0C766.1 664.9 768.1 664.8 770.1 664.8C772.1 664.7 774.1 664.6 776.1 664.5C778.1 664.4 780.1 664.3 782.1 664.3C784.1 664.2 786.1 664.1 788.1 664.0C790.1 663.9 792.1 663.8 794.1 663.7C796.1 663.7 798.1 663.6 800.1 663.5C802.1 663.4 804.1 663.3 806.1 663.2C808.1 663.1 810.1 663.1 812.1 663.0C814.1 662.9 816.1 662.8 818.1 662.7C820.1 662.6 822.1 662.6 824.1 662.5C826.1 662.4 828.1 662.3 830.0 662.2C832.0 662.1 834.0 662.1 836.0 662.0C838.0 661.9 840.0 661.8 842.0 661.7C844.0 661.6 846.0 661.6 848.0 661.5C850.0 661.4 852.0 661.3 854.0 661.2C856.0 661.1 858.0 661.1 860.0 661.0C862.0 660.9 864.0 660.8 866.0 660.7C868.0 660.6 870.0 660.5 872.0 660.5C874.0 660.4 876.0 660.3 878.0 660.2C880.0 660.1 882.0 660.0 884.0 660.0C886.0 659.9 888.0 659.8 890.0 659.7C892.0 659.6 894.0 659.5 896.0 659.5C898.0 659.4 900.0 659.3 902.0 659.2C904.0 659.1 906.0 659.0 908.0 659.0C910.0 658.9 912.0 658.8 914.0 658.7C916.0 658.6 918.0 658.5 920.0 658.4C922.0 658.4 924.0 658.3 926.0 658.2C928.0 658.1 930.0 658.0 932.0 657.9C934.0 657.9 936.0 657.8 938.0 657.7C940.0 657.6 942.0 657.5 944.0 657.4C946.0 657.3 948.0 657.3 950.0 657.2C952.0 657.1 954.0 657.0 956.0 656.9C958.0 656.8 960.0 656.7 962.0 656.6C964.0 656.6 966.0 656.5 968.0 656.4C970.0 656.3 972.0 656.2 974.0 656.1C976.0 656.0 978.0 655.9 980.0 655.9C982.0 655.8 984.0 655.7 986.0 655.6C988.0 655.5 990.1 655.4 992.1 655.3C994.1 655.2 996.1 655.2 998.1 655.1C1000.1 655.0 1002.1 654.9 1004.1 654.8C1006.1 654.7 1008.1 654.6 1010.1 654.5C1012.1 654.4 1014.1 654.3 1016.1 654.3C1018.1 654.2 1020.1 654.1 1022.1 654.0C1024.1 653.9 1026.1 653.8 1028.1 653.7C1030.2 653.6 1032.2 653.5 1034.2 653.4C1036.2 653.3 1038.2 653.2 1040.2 653.1C1042.2 653.1 1044.2 653.0 1046.2 652.9C1048.2 652.8 1050.2 652.7 1052.2 652.6C1054.2 652.5 1056.3 652.4 1058.3 652.3C1060.3 652.2 1062.3 652.1 1064.3 652.0C1066.3 651.9 1068.3 651.8 1070.3 651.7C1072.3 651.6 1074.3 651.5 1076.3 651.4C1078.3 651.3 1080.4 651.2 1082.4 651.1C1084.4 651.0 1086.4 650.9 1088.4 650.8C1090.4 650.7 1092.4 650.6 1094.4 650.5C1096.4 650.4 1098.4 650.3 1100.4 650.2C1102.4 650.0 1104.5 649.9 1106.5 649.8C1108.5 649.7 1110.5 649.6 1112.5 649.5C1114.5 649.4 1116.5 649.3 1118.5 649.1C1120.5 649.0 1122.5 648.9 1124.5 648.8C1126.5 648.7 1128.5 648.5 1130.5 648.4C1132.5 648.3 1134.5 648.2 1136.6 648.1C1138.6 647.9 1140.6 647.8 1142.6 647.7C1144.6 647.5 1146.6 647.4 1148.6 647.3C1150.6 647.1 1152.6 647.0 1154.6 646.9C1156.6 646.7 1158.6 646.6 1160.6 646.5C1162.6 646.3 1164.6 646.2 1166.6 646.0C1168.6 645.9 1170.6 645.7 1172.6 645.6C1174.6 645.5 1176.6 645.3 1178.6 645.1C1180.6 645.0 1182.6 644.8 1184.6 644.7C1186.5 644.5 1188.5 644.4 1190.5 644.2C1192.5 644.0 1194.5 643.9 1196.5 643.7C1198.5 643.5 1200.5 643.4 1202.5 643.2C1204.5 643.0 1206.5 642.9 1208.5 642.7C1210.4 642.5 1212.4 642.3 1214.4 642.1C1216.4 642.0 1218.4 641.8 1220.4 641.6C1222.4 641.4 1224.3 641.2 1226.3 641.0C1228.3 640.8 1230.3 640.6 1232.3 640.4C1234.2 640.2 1236.2 640.0 1238.2 639.8C1240.2 639.6 1242.2 639.4 1244.1 639.2C1246.1 639.0 1248.1 638.8 1250.1 638.6C1252.0 638.4 1254.0 638.1 1256.0 637.9C1257.9 637.7 1259.9 637.5 1261.9 637.2C1263.9 637.0 1265.8 636.8 1267.8 636.5C1269.8 636.3 1271.7 636.1 1273.7 635.8C1275.7 635.6 1277.6 635.4 1279.6 635.1C1281.6 634.9 1283.5 634.6 1285.5 634.4C1287.4 634.1 1289.4 633.9 1291.4 633.6C1293.3 633.4 1295.3 633.1 1297.3 632.8C1299.2 632.6 1301.2 632.3 1303.2 632.0C1305.1 631.8 1307.1 631.5 1309.0 631.3C1311.0 631.0 1313.0 630.7 1314.9 630.4C1316.9 630.2 1318.9 629.9 1320.8 629.6C1322.8 629.3 1324.8 629.1 1326.7 628.8C1328.7 628.5 1330.7 628.2 1332.6 628.0C1334.6 627.7 1336.6 627.4 1338.5 627.1C1340.5 626.8 1342.5 626.5 1344.4 626.2C1346.4 626.0 1348.4 625.7 1350.3 625.4C1352.3 625.1 1354.3 624.8 1356.3 624.5C1358.2 624.2 1360.2 623.9 1362.2 623.6C1364.2 623.3 1366.2 623.0 1368.1 622.7C1370.1 622.4 1372.1 622.1 1374.1 621.8C1376.1 621.5 1378.1 621.2 1380.0 620.9C1382.0 620.7 1384.0 620.4 1386.0 620.1C1388.0 619.8 1390.0 619.4 1392.0 619.1C1394.0 618.8 1396.0 618.5 1398.0 618.2C1400.0 617.9 1402.0 617.6 1404.0 617.3C1406.0 617.0 1408.0 616.7 1410.0 616.4C1412.0 616.1 1414.0 615.8 1416.0 615.5C1418.1 615.2 1420.1 614.9 1422.1 614.6C1424.1 614.3 1426.1 614.0 1428.1 613.6C1430.1 613.3 1432.1 613.0 1434.2 612.7C1436.2 612.3 1438.2 612.0 1440.2 611.7C1442.2 611.3 1444.2 611.0 1446.2 610.7C1448.2 610.3 1450.3 610.0 1452.3 609.6C1454.3 609.2 1456.3 608.9 1458.3 608.5C1460.3 608.1 1462.3 607.8 1464.3 607.4C1466.3 607.0 1468.3 606.6 1470.3 606.2C1472.3 605.8 1474.3 605.4 1476.3 605.0C1478.3 604.6 1480.3 604.2 1482.2 603.7C1484.2 603.3 1486.2 602.9 1488.2 602.4C1490.2 602.0 1492.1 601.5 1494.1 601.0C1496.1 600.6 1498.0 600.1 1500.0 599.6C1502.0 599.1 1503.9 598.6 1505.9 598.1C1507.8 597.6 1509.8 597.0 1511.7 596.5C1513.6 596.0 1515.6 595.4 1517.5 594.8C1519.4 594.3 1521.3 593.7 1523.3 593.1C1525.2 592.5 1527.1 591.9 1529.0 591.3C1530.9 590.7 1532.8 590.1 1534.7 589.4C1536.5 588.8 1538.4 588.1 1540.3 587.4C1542.2 586.7 1544.0 586.0 1545.9 585.3C1547.7 584.6 1549.6 583.9 1551.4 583.1C1553.3 582.4 1555.1 581.6 1556.9 580.9C1558.8 580.1 1560.6 579.3 1562.4 578.5C1564.2 577.7 1566.0 576.8 1567.8 576.0C1569.5 575.1 1571.3 574.3 1573.1 573.4C1574.8 572.5 1576.6 571.6 1578.3 570.7C1580.1 569.7 1581.8 568.8 1583.5 567.8C1585.3 566.8 1587.0 565.8 1588.7 564.8C1590.4 563.8 1592.1 562.8 1593.7 561.8C1595.4 560.7 1597.1 559.6 1598.7 558.5C1600.4 557.5 1602.0 556.4 1603.7 555.2C1605.3 554.1 1606.9 553.0 1608.5 551.8C1610.1 550.6 1611.7 549.5 1613.3 548.3C1614.9 547.1 1616.5 545.9 1618.0 544.6C1619.6 543.4 1621.1 542.1 1622.7 540.9C1624.2 539.6 1625.7 538.3 1627.2 537.0C1628.7 535.7 1630.2 534.4 1631.7 533.1C1633.2 531.7 1634.6 530.4 1636.1 529.0C1637.6 527.7 1639.0 526.3 1640.4 524.9C1641.9 523.5 1643.3 522.1 1644.7 520.7C1646.1 519.2 1647.5 517.8 1648.8 516.4C1650.2 514.9 1651.6 513.4 1652.9 511.9C1654.3 510.5 1655.6 509.0 1656.9 507.5C1658.2 506.0 1659.5 504.4 1660.8 502.9C1662.1 501.4 1663.4 499.8 1664.6 498.3C1665.9 496.7 1667.1 495.1 1668.4 493.5C1669.6 491.9 1670.8 490.4 1672.0 488.7C1673.2 487.1 1674.4 485.5 1675.6 483.9C1676.7 482.2 1677.9 480.6 1679.0 479.0C1680.2 477.3 1681.3 475.6 1682.4 474.0C1683.5 472.3 1684.6 470.6 1685.7 468.9C1686.8 467.2 1687.8 465.5 1688.9 463.8C1689.9 462.1 1690.9 460.3 1691.9 458.6C1693.0 456.9 1693.9 455.1 1694.9 453.4C1695.9 451.6 1696.9 449.9 1697.8 448.1C1698.8 446.3 1699.7 444.6 1700.6 442.8C1701.5 441.0 1702.4 439.2 1703.3 437.4C1704.1 435.6 1705.0 433.8 1705.9 432.0C1706.7 430.2 1707.5 428.3 1708.3 426.5C1709.2 424.7 1710.0 422.8 1710.8 421.0C1711.5 419.2 1712.3 417.3 1713.1 415.5C1713.8 413.6 1714.6 411.8 1715.3 409.9C1716.1 408.0 1716.8 406.2 1717.5 404.3C1718.3 402.4 1719.0 400.6 1719.7 398.7C1720.4 396.8 1721.1 394.9 1721.8 393.0C1722.4 391.2 1723.1 389.3 1723.8 387.4C1724.5 385.5 1725.1 383.6 1725.8 381.7C1726.4 379.8 1727.1 377.9 1727.8 376.0C1728.4 374.1 1729.0 372.2 1729.7 370.3C1730.3 368.4 1731.0 366.5 1731.6 364.6C1732.2 362.7 1732.9 360.8 1733.5 358.9C1734.1 357.0 1734.8 355.0 1735.4 353.1C1736.0 351.2 1736.7 349.3 1737.3 347.4C1737.9 345.5 1738.6 343.6 1739.2 341.7C1739.9 339.8 1740.5 337.9 1741.1 336.0C1741.8 334.1 1742.4 332.2 1743.0 330.3C1743.7 328.4 1744.3 326.5 1744.9 324.6C1745.6 322.7 1746.2 320.8 1746.8 318.9C1747.5 317.0 1748.1 315.1 1748.7 313.2C1749.3 311.3 1750.0 309.4 1750.6 307.5C1751.2 305.6 1751.8 303.7 1752.4 301.7C1753.1 299.8 1753.7 297.9 1754.3 296.0C1754.9 294.1 1755.5 292.2 1756.1 290.3C1756.7 288.4 1757.3 286.5 1757.8 284.6C1758.4 282.7 1759.0 280.8 1759.6 278.8C1760.1 276.9 1760.7 275.0 1761.3 273.1C1761.8 271.2 1762.4 269.3 1762.9 267.3C1763.5 265.4 1764.0 263.5 1764.5 261.6C1765.0 259.7 1765.6 257.7 1766.1 255.8C1766.6 253.9 1767.1 251.9 1767.6 250.0C1768.0 248.1 1768.5 246.1 1769.0 244.2C1769.5 242.3 1769.9 240.3 1770.4 238.4C1770.8 236.4 1771.2 234.5 1771.7 232.5C1772.1 230.6 1772.5 228.6 1772.9 226.7C1773.3 224.7 1773.7 222.7 1774.0 220.8C1774.4 218.8 1774.8 216.8 1775.1 214.9C1775.5 212.9 1775.8 210.9 1776.1 208.9C1776.4 207.0 1776.7 205.0 1777.0 203.0C1777.3 201.0 1777.5 199.0 1777.8 197.0L1777.8 197.0L1773.9 198.1L1766.8 205.2L1759.8 212.3L1757.3 215.5L1757.3 215.5C1756.4 217.3 1755.4 219.0 1754.5 220.8C1753.6 222.6 1752.7 224.3 1751.8 226.1C1750.9 227.9 1750.0 229.7 1749.1 231.5C1748.2 233.3 1747.3 235.1 1746.4 236.9C1745.5 238.7 1744.6 240.5 1743.7 242.3C1742.8 244.1 1741.9 245.9 1741.1 247.7C1740.2 249.5 1739.3 251.3 1738.4 253.1C1737.6 254.9 1736.7 256.8 1735.8 258.6C1734.9 260.4 1734.1 262.2 1733.2 264.0C1732.3 265.8 1731.4 267.7 1730.5 269.5C1729.7 271.3 1728.8 273.1 1727.9 274.9C1727.0 276.7 1726.1 278.5 1725.3 280.4C1724.4 282.2 1723.5 284.0 1722.6 285.8C1721.7 287.6 1720.8 289.4 1719.9 291.2C1719.0 293.0 1718.1 294.8 1717.1 296.6C1716.2 298.4 1715.3 300.2 1714.4 301.9C1713.4 303.7 1712.5 305.5 1711.6 307.3C1710.6 309.0 1709.7 310.8 1708.7 312.6C1707.7 314.3 1706.8 316.1 1705.8 317.8C1704.8 319.6 1703.8 321.3 1702.8 323.1C1701.8 324.8 1700.8 326.5 1699.8 328.2C1698.8 329.9 1697.7 331.7 1696.7 333.4C1695.7 335.1 1694.6 336.8 1693.5 338.5C1692.5 340.1 1691.4 341.8 1690.3 343.5C1689.2 345.2 1688.1 346.8 1687.0 348.5C1685.9 350.2 1684.8 351.8 1683.7 353.4C1682.6 355.1 1681.4 356.7 1680.3 358.4C1679.1 360.0 1678.0 361.6 1676.8 363.2C1675.6 364.8 1674.4 366.4 1673.2 368.0C1672.0 369.6 1670.8 371.2 1669.6 372.8C1668.4 374.4 1667.1 375.9 1665.9 377.5C1664.6 379.1 1663.4 380.6 1662.1 382.2C1660.8 383.7 1659.6 385.3 1658.3 386.8C1657.0 388.3 1655.7 389.9 1654.4 391.4C1653.1 392.9 1651.8 394.5 1650.5 396.0C1649.1 397.5 1647.8 399.0 1646.5 400.5C1645.2 402.1 1643.8 403.6 1642.5 405.1C1641.2 406.6 1639.8 408.2 1638.5 409.7C1637.2 411.2 1635.8 412.7 1634.5 414.2C1633.1 415.7 1631.7 417.2 1630.4 418.7C1629.0 420.2 1627.6 421.7 1626.3 423.2C1624.9 424.7 1623.5 426.2 1622.1 427.7C1620.7 429.2 1619.3 430.6 1617.9 432.1C1616.5 433.6 1615.1 435.0 1613.7 436.5C1612.3 437.9 1610.9 439.3 1609.4 440.8C1608.0 442.2 1606.5 443.6 1605.1 445.0C1603.6 446.4 1602.2 447.8 1600.7 449.2C1599.2 450.6 1597.8 451.9 1596.3 453.3C1594.8 454.7 1593.3 456.0 1591.8 457.3C1590.3 458.7 1588.8 460.0 1587.3 461.3C1585.8 462.6 1584.2 464.0 1582.7 465.3C1581.2 466.5 1579.6 467.8 1578.1 469.1C1576.5 470.4 1575.0 471.7 1573.4 472.9C1571.9 474.2 1570.3 475.4 1568.7 476.7C1567.1 477.9 1565.6 479.1 1564.0 480.3C1562.4 481.6 1560.8 482.8 1559.2 484.0C1557.6 485.2 1556.0 486.4 1554.4 487.5C1552.7 488.7 1551.1 489.9 1549.5 491.0C1547.9 492.2 1546.2 493.4 1544.6 494.5C1542.9 495.6 1541.3 496.8 1539.6 497.9C1538.0 499.0 1536.3 500.1 1534.6 501.2C1533.0 502.3 1531.3 503.4 1529.6 504.5C1527.9 505.6 1526.3 506.7 1524.6 507.7C1522.9 508.8 1521.2 509.9 1519.5 510.9C1517.8 512.0 1516.1 513.0 1514.3 514.0C1512.6 515.1 1510.9 516.1 1509.2 517.1C1507.5 518.1 1505.7 519.1 1504.0 520.1C1502.2 521.1 1500.5 522.1 1498.8 523.1C1497.0 524.1 1495.3 525.1 1493.5 526.0C1491.7 527.0 1490.0 527.9 1488.2 528.9C1486.5 529.8 1484.7 530.8 1482.9 531.7C1481.1 532.6 1479.3 533.6 1477.6 534.5C1475.8 535.4 1474.0 536.3 1472.2 537.2C1470.4 538.1 1468.6 539.0 1466.8 539.9C1465.0 540.8 1463.2 541.6 1461.4 542.5C1459.6 543.4 1457.7 544.2 1455.9 545.1C1454.1 545.9 1452.3 546.8 1450.5 547.6C1448.6 548.5 1446.8 549.3 1445.0 550.1C1443.1 550.9 1441.3 551.8 1439.4 552.6C1437.6 553.4 1435.8 554.2 1433.9 555.0C1432.1 555.8 1430.2 556.5 1428.3 557.3C1426.5 558.1 1424.6 558.9 1422.8 559.6C1420.9 560.4 1419.0 561.2 1417.2 561.9C1415.3 562.7 1413.4 563.4 1411.6 564.1C1409.7 564.9 1407.8 565.6 1405.9 566.3C1404.0 567.1 1402.2 567.8 1400.3 568.5C1398.4 569.2 1396.5 569.9 1394.6 570.6C1392.7 571.3 1390.8 572.0 1388.9 572.7C1387.0 573.4 1385.1 574.0 1383.2 574.7C1381.3 575.4 1379.4 576.0 1377.5 576.7C1375.6 577.4 1373.7 578.0 1371.8 578.7C1369.9 579.3 1368.0 580.0 1366.1 580.6C1364.2 581.2 1362.3 581.9 1360.3 582.5C1358.4 583.1 1356.5 583.7 1354.6 584.3C1352.7 584.9 1350.8 585.6 1348.8 586.2C1346.9 586.8 1345.0 587.3 1343.1 587.9C1341.1 588.5 1339.2 589.1 1337.3 589.7C1335.4 590.3 1333.4 590.8 1331.5 591.4C1329.6 592.0 1327.7 592.5 1325.7 593.1C1323.8 593.6 1321.9 594.2 1319.9 594.7C1318.0 595.3 1316.1 595.8 1314.1 596.4C1312.2 596.9 1310.3 597.4 1308.3 598.0C1306.4 598.5 1304.4 599.0 1302.5 599.5C1300.6 600.0 1298.6 600.5 1296.7 601.0C1294.7 601.6 1292.8 602.1 1290.8 602.5C1288.9 603.0 1286.9 603.5 1285.0 604.0C1283.0 604.5 1281.1 605.0 1279.1 605.5C1277.2 605.9 1275.2 606.4 1273.3 606.9C1271.3 607.3 1269.4 607.8 1267.4 608.2C1265.5 608.7 1263.5 609.2 1261.6 609.6C1259.6 610.1 1257.7 610.5 1255.7 610.9C1253.7 611.4 1251.8 611.8 1249.8 612.2C1247.9 612.7 1245.9 613.1 1243.9 613.5C1242.0 613.9 1240.0 614.3 1238.1 614.8C1236.1 615.2 1234.1 615.6 1232.2 616.0C1230.2 616.4 1228.2 616.8 1226.3 617.2C1224.3 617.6 1222.3 618.0 1220.4 618.3C1218.4 618.7 1216.4 619.1 1214.4 619.5C1212.5 619.9 1210.5 620.3 1208.5 620.6C1206.6 621.0 1204.6 621.4 1202.6 621.7C1200.6 622.1 1198.7 622.4 1196.7 622.8C1194.7 623.2 1192.7 623.5 1190.7 623.9C1188.8 624.2 1186.8 624.5 1184.8 624.9C1182.8 625.2 1180.9 625.6 1178.9 625.9C1176.9 626.2 1174.9 626.6 1172.9 626.9C1170.9 627.2 1169.0 627.5 1167.0 627.9C1165.0 628.2 1163.0 628.5 1161.0 628.8C1159.0 629.1 1157.1 629.4 1155.1 629.7C1153.1 630.0 1151.1 630.3 1149.1 630.6C1147.1 630.9 1145.1 631.2 1143.1 631.5C1141.2 631.8 1139.2 632.1 1137.2 632.4C1135.2 632.7 1133.2 633.0 1131.2 633.3C1129.2 633.5 1127.2 633.8 1125.2 634.1C1123.2 634.4 1121.2 634.6 1119.3 634.9C1117.3 635.2 1115.3 635.5 1113.3 635.7C1111.3 636.0 1109.3 636.2 1107.3 636.5C1105.3 636.8 1103.3 637.0 1101.3 637.3C1099.3 637.5 1097.3 637.8 1095.3 638.0C1093.3 638.3 1091.3 638.5 1089.3 638.8C1087.3 639.0 1085.3 639.3 1083.3 639.5C1081.3 639.7 1079.3 640.0 1077.3 640.2C1075.3 640.4 1073.3 640.7 1071.3 640.9C1069.3 641.1 1067.3 641.4 1065.3 641.6C1063.3 641.8 1061.3 642.0 1059.3 642.2C1057.3 642.5 1055.3 642.7 1053.3 642.9C1051.3 643.1 1049.3 643.3 1047.3 643.5C1045.3 643.8 1043.3 644.0 1041.3 644.2C1039.3 644.4 1037.3 644.6 1035.3 644.8C1033.3 645.0 1031.3 645.2 1029.3 645.4C1027.3 645.6 1025.3 645.8 1023.3 646.0C1021.3 646.2 1019.3 646.4 1017.3 646.6C1015.3 646.8 1013.3 647.0 1011.2 647.2C1009.2 647.4 1007.2 647.6 1005.2 647.8C1003.2 647.9 1001.2 648.1 999.2 648.3C997.2 648.5 995.2 648.7 993.2 648.9C991.2 649.1 989.2 649.2 987.2 649.4C985.2 649.6 983.2 649.8 981.2 650.0C979.2 650.1 977.2 650.3 975.1 650.5C973.1 650.7 971.1 650.9 969.1 651.0C967.1 651.2 965.1 651.4 963.1 651.6C961.1 651.7 959.1 651.9 957.1 652.1C955.1 652.2 953.1 652.4 951.1 652.6C949.1 652.7 947.1 652.9 945.1 653.1C943.1 653.3 941.0 653.4 939.0 653.6C937.0 653.8 935.0 653.9 933.0 654.1C931.0 654.3 929.0 654.4 927.0 654.6C925.0 654.7 923.0 654.9 921.0 655.1C919.0 655.2 917.0 655.4 915.0 655.6C913.0 655.7 911.0 655.9 909.0 656.0C907.0 656.2 905.0 656.4 903.0 656.5C901.0 656.7 899.0 656.9 897.0 657.0C895.0 657.2 892.9 657.3 890.9 657.5C888.9 657.7 886.9 657.8 884.9 658.0C882.9 658.1 880.9 658.3 878.9 658.5C876.9 658.6 874.9 658.8 872.9 659.0C870.9 659.1 868.9 659.3 866.9 659.4C864.9 659.6 862.9 659.8 860.9 659.9C858.9 660.1 856.9 660.3 854.9 660.4C852.9 660.6 850.9 660.7 848.9 660.9C847.0 661.1 845.0 661.2 843.0 661.4C841.0 661.6 839.0 661.7 837.0 661.9C835.0 662.1 833.0 662.2 831.0 662.4C829.0 662.6 827.0 662.7 825.0 662.9"/><path d="M170.9 818.2C172.8 817.6 174.7 816.9 176.6 816.3C178.6 815.7 180.5 815.2 182.4 814.6C184.3 814.1 186.3 813.5 188.2 813.0C190.2 812.5 192.1 812.0 194.0 811.5C196.0 811.1 197.9 810.6 199.9 810.2C201.8 809.7 203.8 809.3 205.7 808.9C207.7 808.5 209.6 808.1 211.6 807.8C213.5 807.4 215.5 807.1 217.5 806.7C219.4 806.4 221.4 806.1 223.4 805.8C225.3 805.5 227.3 805.2 229.3 804.9C231.3 804.7 233.2 804.4 235.2 804.2C237.2 803.9 239.2 803.7 241.2 803.5C243.1 803.2 245.1 803.0 247.1 802.8C249.1 802.7 251.1 802.5 253.1 802.3C255.1 802.1 257.1 802.0 259.0 801.8C261.0 801.7 263.0 801.5 265.0 801.4C267.0 801.3 269.0 801.1 271.0 801.0C273.0 800.9 275.0 800.8 277.0 800.7C279.0 800.6 281.0 800.5 283.0 800.4C285.0 800.4 287.0 800.3 289.0 800.2C291.0 800.1 293.1 800.1 295.1 800.0C297.1 799.9 299.1 799.9 301.1 799.8C303.1 799.8 305.1 799.7 307.1 799.7C309.1 799.6 311.1 799.6 313.1 799.5C315.1 799.5 317.1 799.5 319.2 799.4C321.2 799.4 323.2 799.3 325.2 799.3C327.2 799.3 329.2 799.2 331.2 799.2C333.2 799.2 335.2 799.1 337.2 799.1C339.2 799.0 341.3 799.0 343.3 799.0C345.3 798.9 347.3 798.9 349.3 798.8C351.3 798.8 353.3 798.7 355.3 798.7C357.3 798.6 359.3 798.6 361.3 798.6C363.3 798.5 365.3 798.5 367.3 798.4C369.3 798.4 371.3 798.3 373.4 798.3C375.4 798.2 377.4 798.2 379.4 798.1C381.4 798.1 383.4 798.0 385.4 798.0C387.4 797.9 389.4 797.9 391.4 797.8C393.4 797.7 395.4 797.7 397.4 797.6C399.4 797.6 401.4 797.5 403.4 797.5C405.4 797.4 407.4 797.4 409.4 797.3C411.4 797.2 413.4 797.2 415.4 797.1C417.4 797.1 419.4 797.0 421.4 796.9C423.4 796.9 425.4 796.8 427.4 796.8C429.4 796.7 431.4 796.6 433.4 796.6C435.4 796.5 437.4 796.4 439.4 796.4C441.4 796.3 443.4 796.2 445.4 796.2C447.4 796.1 449.4 796.0 451.4 796.0C453.4 795.9 455.4 795.8 457.4 795.8C459.4 795.7 461.4 795.6 463.4 795.6C465.4 795.5 467.4 795.4 469.4 795.4C471.4 795.3 473.4 795.2 475.4 795.2C477.4 795.1 479.4 795.0 481.4 794.9C483.4 794.9 485.4 794.8 487.4 794.7C489.4 794.7 491.4 794.6 493.4 794.5C495.4 794.4 497.4 794.4 499.4 794.3C501.4 794.2 503.4 794.1 505.4 794.1C507.4 794.0 509.4 793.9 511.4 793.8C513.4 793.8 515.4 793.7 517.4 793.6C519.4 793.5 521.4 793.4 523.4 793.4C525.4 793.3 527.4 793.2 529.4 793.1C531.4 793.1 533.4 793.0 535.4 792.9C537.4 792.8 539.4 792.7 541.3 792.7C543.3 792.6 545.3 792.5 547.3 792.4C549.3 792.3 551.3 792.3 553.3 792.2C555.3 792.1 557.3 792.0 559.3 791.9C561.3 791.9 563.3 791.8 565.3 791.7C567.3 791.6 569.3 791.5 571.3 791.5C573.3 791.4 575.3 791.3 577.3 791.2C579.3 791.1 581.3 791.0 583.3 791.0C585.3 790.9 587.3 790.8 589.3 790.7C591.3 790.6 593.3 790.6 595.3 790.5C597.3 790.4 599.3 790.3 601.3 790.2C603.2 790.1 605.2 790.1 607.2 790.0C609.2 789.9 611.2 789.8 613.2 789.7C615.2 789.6 617.2 789.6 619.2 789.5C621.2 789.4 623.2 789.3 625.2 789.2C627.2 789.1 629.2 789.0 631.2 789.0C633.2 788.9 635.2 788.8 637.2 788.7C639.2 788.6 641.2 788.5 643.2 788.5C645.2 788.4 647.2 788.3 649.2 788.2C651.2 788.1 653.2 788.0 655.2 788.0C657.2 787.9 659.2 787.8 661.2 787.7C663.2 787.6 665.2 787.5 667.2 787.5C669.2 787.4 671.2 787.3 673.2 787.2C675.2 787.1 677.2 787.0 679.2 787.0C681.2 786.9 683.2 786.8 685.2 786.7C687.2 786.6 689.2 786.5 691.2 786.5C693.2 786.4 695.2 786.3 697.2 786.2C699.2 786.1 701.2 786.0 703.2 786.0C705.2 785.9 707.2 785.8 709.2 785.7C711.2 785.6 713.2 785.6 715.2 785.5C717.2 785.4 719.2 785.3 721.2 785.2C723.2 785.2 725.2 785.1 727.2 785.0C729.2 784.9 731.2 784.8 733.2 784.8C735.2 784.7 737.2 784.6 739.2 784.5C741.2 784.4 743.2 784.4 745.2 784.3C747.2 784.2 749.2 784.1 751.2 784.0C753.2 784.0 755.2 783.9 757.2 783.8C759.2 783.7 761.2 783.6 763.2 783.6C765.2 783.5 767.2 783.4 769.2 783.3C771.2 783.2 773.2 783.2 775.2 783.1C777.3 783.0 779.3 782.9 781.3 782.9C783.3 782.8 785.3 782.7 787.3 782.6C789.3 782.5 791.3 782.5 793.3 782.4C795.3 782.3 797.3 782.2 799.3 782.1C801.3 782.1 803.3 782.0 805.3 781.9C807.3 781.8 809.3 781.8 811.3 781.7C813.3 781.6 815.3 781.5 817.3 781.4C819.3 781.4 821.3 781.3 823.3 781.2C825.3 781.1 827.4 781.1 829.4 781.0C831.4 780.9 833.4 780.8 835.4 780.7C837.4 780.7 839.4 780.6 841.4 780.5C843.4 780.4 845.4 780.4 847.4 780.3C849.4 780.2 851.4 780.1 853.4 780.0C855.4 780.0 857.4 779.9 859.4 779.8C861.4 779.7 863.4 779.7 865.4 779.6C867.4 779.5 869.4 779.4 871.5 779.3C873.5 779.3 875.5 779.2 877.5 779.1C879.5 779.0 881.5 778.9 883.5 778.9C885.5 778.8 887.5 778.7 889.5 778.6C891.5 778.6 893.5 778.5 895.5 778.4C897.5 778.3 899.5 778.2 901.5 778.2C903.5 778.1 905.5 778.0 907.5 777.9C909.5 777.8 911.5 777.8 913.5 777.7C915.5 777.6 917.5 777.5 919.6 777.4C921.6 777.4 923.6 777.3 925.6 777.2C927.6 777.1 929.6 777.0 931.6 777.0C933.6 776.9 935.6 776.8 937.6 776.7C939.6 776.6 941.6 776.5 943.6 776.5C945.6 776.4 947.6 776.3 949.6 776.2C951.6 776.1 953.6 776.1 955.6 776.0C957.6 775.9 959.6 775.8 961.6 775.7C963.6 775.6 965.6 775.6 967.6 775.5C969.6 775.4 971.6 775.3 973.6 775.2C975.6 775.2 977.6 775.1 979.6 775.0C981.6 774.9 983.6 774.8 985.6 774.7C987.6 774.6 989.6 774.6 991.6 774.5C993.6 774.4 995.6 774.3 997.6 774.2C999.6 774.1 1001.6 774.1 1003.6 774.0C1005.6 773.9 1007.6 773.8 1009.6 773.7C1011.6 773.6 1013.6 773.5 1015.6 773.4C1017.6 773.4 1019.6 773.3 1021.6 773.2C1023.6 773.1 1025.6 773.0 1027.6 772.9C1029.6 772.8 1031.6 772.7 1033.6 772.7C1035.6 772.6 1037.6 772.5 1039.6 772.4C1041.6 772.3 1043.6 772.2 1045.6 772.1C1047.6 772.0 1049.6 771.9 1051.6 771.9C1053.6 771.8 1055.6 771.7 1057.6 771.6C1059.6 771.5 1061.6 771.4 1063.6 771.3C1065.6 771.2 1067.6 771.1 1069.6 771.0C1071.6 770.9 1073.6 770.8 1075.6 770.7C1077.6 770.6 1079.6 770.6 1081.6 770.5C1083.6 770.4 1085.6 770.3 1087.5 770.2C1089.5 770.1 1091.5 770.0 1093.5 769.9C1095.5 769.8 1097.5 769.7 1099.5 769.6C1101.5 769.5 1103.5 769.4 1105.5 769.3C1107.5 769.2 1109.5 769.1 1111.5 769.0C1113.5 768.9 1115.5 768.8 1117.5 768.6C1119.5 768.5 1121.4 768.4 1123.4 768.3C1125.4 768.2 1127.4 768.1 1129.4 768.0C1131.4 767.9 1133.4 767.8 1135.4 767.7C1137.4 767.6 1139.4 767.5 1141.4 767.3C1143.4 767.2 1145.4 767.1 1147.4 767.0C1149.4 766.9 1151.3 766.8 1153.3 766.6C1155.3 766.5 1157.3 766.4 1159.3 766.3C1161.3 766.2 1163.3 766.0 1165.3 765.9C1167.3 765.8 1169.3 765.7 1171.3 765.6C1173.3 765.4 1175.2 765.3 1177.2 765.2C1179.2 765.1 1181.2 764.9 1183.2 764.8C1185.2 764.7 1187.2 764.5 1189.2 764.4C1191.2 764.3 1193.2 764.1 1195.2 764.0C1197.2 763.9 1199.1 763.7 1201.1 763.6C1203.1 763.4 1205.1 763.3 1207.1 763.2C1209.1 763.0 1211.1 762.9 1213.1 762.7C1215.1 762.6 1217.1 762.4 1219.1 762.3C1221.0 762.1 1223.0 762.0 1225.0 761.8C1227.0 761.7 1229.0 761.5 1231.0 761.4C1233.0 761.2 1235.0 761.1 1237.0 760.9C1239.0 760.8 1241.0 760.6 1242.9 760.4C1244.9 760.3 1246.9 760.1 1248.9 759.9C1250.9 759.8 1252.9 759.6 1254.9 759.4C1256.9 759.3 1258.9 759.1 1260.9 758.9C1262.9 758.8 1264.8 758.6 1266.8 758.4C1268.8 758.2 1270.8 758.1 1272.8 757.9C1274.8 757.7 1276.8 757.5 1278.8 757.3C1280.8 757.1 1282.8 757.0 1284.8 756.8C1286.7 756.6 1288.7 756.4 1290.7 756.2C1292.7 756.0 1294.7 755.8 1296.7 755.6C1298.7 755.4 1300.7 755.2 1302.7 755.0C1304.7 754.8 1306.7 754.6 1308.7 754.4C1310.6 754.2 1312.6 754.0 1314.6 753.8C1316.6 753.6 1318.6 753.4 1320.6 753.1C1322.6 752.9 1324.6 752.7 1326.6 752.5C1328.6 752.3 1330.6 752.1 1332.5 751.8C1334.5 751.6 1336.5 751.4 1338.5 751.1C1340.5 750.9 1342.5 750.7 1344.5 750.5C1346.5 750.2 1348.5 750.0 1350.5 749.7C1352.5 749.5 1354.5 749.3 1356.5 749.0C1358.4 748.8 1360.4 748.5 1362.4 748.3C1364.4 748.0 1366.4 747.8 1368.4 747.5C1370.4 747.3 1372.4 747.0 1374.4 746.7C1376.4 746.5 1378.4 746.2 1380.4 746.0C1382.4 745.7 1384.4 745.4 1386.3 745.1C1388.3 744.9 1390.3 744.6 1392.3 744.3C1394.3 744.0 1396.3 743.8 1398.3 743.5C1400.3 743.2 1402.3 742.9 1404.3 742.6C1406.3 742.3 1408.3 742.1 1410.3 741.8C1412.3 741.5 1414.3 741.2 1416.3 740.9C1418.3 740.6 1420.3 740.3 1422.2 740.0C1424.2 739.6 1426.2 739.3 1428.2 739.0C1430.2 738.7 1432.2 738.4 1434.2 738.1C1436.2 737.8 1438.2 737.4 1440.2 737.1C1442.2 736.8 1444.2 736.4 1446.2 736.1C1448.2 735.8 1450.2 735.4 1452.2 735.1C1454.2 734.7 1456.1 734.4 1458.1 734.0C1460.1 733.7 1462.1 733.3 1464.1 732.9C1466.1 732.6 1468.1 732.2 1470.0 731.8C1472.0 731.4 1474.0 731.0 1476.0 730.6C1478.0 730.3 1479.9 729.8 1481.9 729.4C1483.9 729.0 1485.9 728.6 1487.8 728.2C1489.8 727.8 1491.8 727.3 1493.7 726.9C1495.7 726.4 1497.6 726.0 1499.6 725.5C1501.6 725.1 1503.5 724.6 1505.5 724.1C1507.4 723.6 1509.3 723.2 1511.3 722.7C1513.2 722.2 1515.2 721.7 1517.1 721.1C1519.0 720.6 1521.0 720.1 1522.9 719.6C1524.8 719.0 1526.7 718.5 1528.6 717.9C1530.6 717.3 1532.5 716.8 1534.4 716.2C1536.3 715.6 1538.2 715.0 1540.1 714.4C1542.0 713.8 1543.9 713.2 1545.8 712.5C1547.6 711.9 1549.5 711.3 1551.4 710.6C1553.3 709.9 1555.1 709.3 1557.0 708.6C1558.8 707.9 1560.7 707.2 1562.6 706.5C1564.4 705.8 1566.2 705.0 1568.1 704.3C1569.9 703.5 1571.7 702.8 1573.6 702.0C1575.4 701.2 1577.2 700.4 1579.0 699.6C1580.8 698.8 1582.6 698.0 1584.4 697.2C1586.2 696.4 1588.0 695.5 1589.8 694.6C1591.5 693.8 1593.3 692.9 1595.1 692.0C1596.8 691.1 1598.6 690.2 1600.3 689.2C1602.1 688.3 1603.8 687.3 1605.5 686.4C1607.3 685.4 1609.0 684.4 1610.7 683.4C1612.4 682.4 1614.1 681.4 1615.8 680.3C1617.5 679.3 1619.2 678.2 1620.8 677.1C1622.5 676.0 1624.2 674.9 1625.8 673.8C1627.5 672.7 1629.1 671.6 1630.7 670.4C1632.4 669.2 1634.0 668.1 1635.6 666.9C1637.2 665.7 1638.8 664.5 1640.4 663.3C1642.0 662.0 1643.5 660.8 1645.1 659.5C1646.6 658.3 1648.2 657.0 1649.7 655.7C1651.3 654.4 1652.8 653.1 1654.3 651.8C1655.8 650.5 1657.3 649.1 1658.7 647.8C1660.2 646.4 1661.7 645.0 1663.1 643.6C1664.6 642.2 1666.0 640.8 1667.4 639.4C1668.8 638.0 1670.2 636.6 1671.6 635.1C1673.0 633.7 1674.3 632.2 1675.7 630.7C1677.0 629.2 1678.4 627.7 1679.7 626.2C1681.0 624.7 1682.3 623.2 1683.6 621.6C1684.8 620.1 1686.1 618.5 1687.3 617.0C1688.6 615.4 1689.8 613.8 1691.0 612.2C1692.2 610.6 1693.4 609.0 1694.5 607.4C1695.7 605.8 1696.8 604.1 1698.0 602.5C1699.1 600.8 1700.2 599.1 1701.3 597.5C1702.4 595.8 1703.4 594.1 1704.5 592.4C1705.5 590.7 1706.6 589.0 1707.6 587.3C1708.6 585.6 1709.6 583.8 1710.6 582.1C1711.6 580.3 1712.6 578.6 1713.5 576.8C1714.5 575.1 1715.4 573.3 1716.3 571.5C1717.3 569.8 1718.2 568.0 1719.1 566.2C1720.0 564.4 1720.9 562.6 1721.7 560.8C1722.6 559.0 1723.5 557.2 1724.3 555.4C1725.2 553.6 1726.0 551.8 1726.8 549.9C1727.6 548.1 1728.5 546.3 1729.3 544.5C1730.1 542.6 1730.9 540.8 1731.6 538.9C1732.4 537.1 1733.2 535.3 1733.9 533.4C1734.7 531.6 1735.5 529.7 1736.2 527.8C1736.9 526.0 1737.7 524.1 1738.4 522.3C1739.1 520.4 1739.9 518.5 1740.6 516.6C1741.3 514.8 1742.0 512.9 1742.7 511.0C1743.4 509.1 1744.1 507.3 1744.7 505.4C1745.4 503.5 1746.1 501.6 1746.8 499.7C1747.5 497.8 1748.1 495.9 1748.8 494.0C1749.4 492.1 1750.1 490.2 1750.8 488.4C1751.4 486.5 1752.1 484.6 1752.7 482.7C1753.3 480.8 1754.0 478.9 1754.6 477.0C1755.3 475.1 1755.9 473.2 1756.5 471.3C1757.2 469.4 1757.8 467.5 1758.4 465.6C1759.1 463.7 1759.7 461.8 1760.3 459.9C1761.0 458.0 1761.6 456.1 1762.2 454.2C1762.8 452.3 1763.4 450.4 1764.1 448.5C1764.7 446.6 1765.3 444.6 1765.9 442.7C1766.5 440.8 1767.1 438.9 1767.7 437.0C1768.3 435.1 1769.0 433.2 1769.6 431.3C1770.2 429.4 1770.8 427.5 1771.3 425.6C1771.9 423.7 1772.5 421.8 1773.1 419.9C1773.7 418.0 1774.3 416.1 1774.9 414.2C1775.5 412.2 1776.0 410.3 1776.6 408.4C1777.2 406.5 1777.8 404.6 1778.3 402.7C1778.9 400.8 1779.5 398.9 1780.0 397.0C1780.6 395.0 1781.1 393.1 1781.7 391.2C1782.2 389.3 1782.8 387.4 1783.3 385.5C1783.8 383.5 1784.4 381.6 1784.9 379.7C1785.4 377.8 1785.9 375.9 1786.5 373.9C1787.0 372.0 1787.5 370.1 1788.0 368.1C1788.5 366.2 1788.9 364.3 1789.4 362.4C1789.9 360.4 1790.3 358.5 1790.8 356.5C1791.2 354.6 1791.7 352.7 1792.1 350.7C1792.5 348.8 1793.0 346.8 1793.4 344.9C1793.8 342.9 1794.1 341.0 1794.5 339.0L1794.5 339.0C1792.7 339.7 1790.7 340.1 1789.0 341.1C1787.2 342.2 1785.7 343.7 1784.1 345.2C1782.6 346.7 1781.1 348.6 1779.6 350.3C1778.1 352.0 1776.7 353.9 1775.2 355.5C1773.7 357.0 1772.1 358.4 1770.5 359.8L1770.5 359.8C1769.5 361.5 1768.6 363.3 1767.6 365.0C1766.6 366.8 1765.7 368.6 1764.8 370.3C1763.8 372.1 1762.9 373.8 1761.9 375.6C1761.0 377.4 1760.0 379.2 1759.1 380.9C1758.2 382.7 1757.3 384.5 1756.3 386.3C1755.4 388.0 1754.5 389.8 1753.5 391.6C1752.6 393.4 1751.7 395.2 1750.8 397.0C1749.9 398.8 1748.9 400.5 1748.0 402.3C1747.1 404.1 1746.2 405.9 1745.2 407.7C1744.3 409.5 1743.4 411.3 1742.5 413.0C1741.5 414.8 1740.6 416.6 1739.7 418.4C1738.7 420.2 1737.8 422.0 1736.9 423.7C1735.9 425.5 1735.0 427.3 1734.0 429.1C1733.1 430.8 1732.1 432.6 1731.2 434.4C1730.2 436.1 1729.2 437.9 1728.3 439.6C1727.3 441.4 1726.3 443.2 1725.3 444.9C1724.3 446.6 1723.4 448.4 1722.4 450.1C1721.4 451.9 1720.4 453.6 1719.3 455.3C1718.3 457.0 1717.3 458.8 1716.3 460.5C1715.3 462.2 1714.2 463.9 1713.2 465.6C1712.1 467.3 1711.1 469.0 1710.0 470.7C1709.0 472.4 1707.9 474.1 1706.8 475.8C1705.7 477.4 1704.7 479.1 1703.6 480.8C1702.5 482.4 1701.4 484.1 1700.2 485.7C1699.1 487.4 1698.0 489.0 1696.9 490.7C1695.7 492.3 1694.6 493.9 1693.4 495.6C1692.3 497.2 1691.1 498.8 1689.9 500.4C1688.8 502.0 1687.6 503.6 1686.4 505.2C1685.2 506.8 1684.0 508.4 1682.7 509.9C1681.5 511.5 1680.3 513.1 1679.0 514.6C1677.8 516.2 1676.5 517.7 1675.3 519.3C1674.0 520.8 1672.7 522.3 1671.4 523.9C1670.1 525.4 1668.8 526.9 1667.5 528.4C1666.2 529.9 1664.9 531.4 1663.5 532.9C1662.2 534.4 1660.8 535.8 1659.5 537.3C1658.1 538.8 1656.7 540.2 1655.4 541.7C1654.0 543.1 1652.6 544.6 1651.2 546.0C1649.8 547.4 1648.4 548.9 1647.0 550.3C1645.5 551.7 1644.1 553.1 1642.7 554.5C1641.2 555.9 1639.8 557.3 1638.3 558.7C1636.9 560.1 1635.4 561.5 1633.9 562.8C1632.4 564.2 1630.9 565.6 1629.5 566.9C1628.0 568.3 1626.5 569.6 1625.0 571.0C1623.4 572.3 1621.9 573.7 1620.4 575.0C1618.9 576.3 1617.3 577.6 1615.8 579.0C1614.3 580.3 1612.7 581.6 1611.2 582.9C1609.6 584.2 1608.1 585.5 1606.5 586.7C1604.9 588.0 1603.3 589.3 1601.8 590.6C1600.2 591.8 1598.6 593.1 1597.0 594.3C1595.4 595.6 1593.8 596.8 1592.2 598.0C1590.6 599.2 1589.0 600.5 1587.4 601.7C1585.8 602.9 1584.2 604.1 1582.5 605.3C1580.9 606.4 1579.3 607.6 1577.6 608.8C1576.0 610.0 1574.4 611.1 1572.7 612.3C1571.1 613.4 1569.4 614.6 1567.8 615.7C1566.1 616.8 1564.4 617.9 1562.8 619.1C1561.1 620.2 1559.4 621.3 1557.8 622.4C1556.1 623.5 1554.4 624.5 1552.7 625.6C1551.0 626.7 1549.3 627.8 1547.6 628.8C1545.9 629.9 1544.2 630.9 1542.5 632.0C1540.8 633.0 1539.1 634.0 1537.4 635.1C1535.7 636.1 1534.0 637.1 1532.2 638.1C1530.5 639.1 1528.8 640.1 1527.1 641.1C1525.3 642.1 1523.6 643.0 1521.8 644.0C1520.1 645.0 1518.4 645.9 1516.6 646.9C1514.9 647.8 1513.1 648.8 1511.3 649.7C1509.6 650.7 1507.8 651.6 1506.1 652.5C1504.3 653.4 1502.5 654.3 1500.7 655.2C1499.0 656.1 1497.2 657.0 1495.4 657.9C1493.6 658.8 1491.8 659.7 1490.0 660.6C1488.2 661.4 1486.4 662.3 1484.6 663.2C1482.8 664.0 1481.0 664.9 1479.2 665.7C1477.4 666.5 1475.6 667.4 1473.8 668.2C1472.0 669.0 1470.2 669.8 1468.3 670.6C1466.5 671.5 1464.7 672.3 1462.9 673.0C1461.0 673.8 1459.2 674.6 1457.4 675.4C1455.5 676.2 1453.7 677.0 1451.9 677.7C1450.0 678.5 1448.2 679.2 1446.3 680.0C1444.5 680.8 1442.6 681.5 1440.8 682.2C1438.9 683.0 1437.0 683.7 1435.2 684.4C1433.3 685.1 1431.4 685.9 1429.6 686.6C1427.7 687.3 1425.8 688.0 1424.0 688.7C1422.1 689.4 1420.2 690.1 1418.3 690.7C1416.5 691.4 1414.6 692.1 1412.7 692.8C1410.8 693.4 1408.9 694.1 1407.0 694.7C1405.1 695.4 1403.2 696.1 1401.3 696.7C1399.4 697.3 1397.5 698.0 1395.6 698.6C1393.7 699.2 1391.8 699.9 1389.9 700.5C1388.0 701.1 1386.1 701.7 1384.2 702.3C1382.3 702.9 1380.4 703.5 1378.5 704.1C1376.5 704.7 1374.6 705.3 1372.7 705.9C1370.8 706.5 1368.9 707.0 1366.9 707.6C1365.0 708.2 1363.1 708.7 1361.1 709.3C1359.2 709.8 1357.3 710.4 1355.4 710.9C1353.4 711.5 1351.5 712.0 1349.5 712.6C1347.6 713.1 1345.7 713.6 1343.7 714.2C1341.8 714.7 1339.8 715.2 1337.9 715.7C1336.0 716.2 1334.0 716.7 1332.1 717.3C1330.1 717.8 1328.2 718.3 1326.2 718.7C1324.3 719.2 1322.3 719.7 1320.3 720.2C1318.4 720.7 1316.4 721.2 1314.5 721.7C1312.5 722.1 1310.6 722.6 1308.6 723.1C1306.6 723.5 1304.7 724.0 1302.7 724.4C1300.8 724.9 1298.8 725.3 1296.8 725.8C1294.9 726.2 1292.9 726.7 1290.9 727.1C1289.0 727.5 1287.0 728.0 1285.0 728.4C1283.0 728.8 1281.1 729.3 1279.1 729.7C1277.1 730.1 1275.2 730.5 1273.2 730.9C1271.2 731.3 1269.2 731.7 1267.3 732.1C1265.3 732.5 1263.3 732.9 1261.3 733.3C1259.4 733.7 1257.4 734.1 1255.4 734.5C1253.4 734.9 1251.4 735.3 1249.5 735.6C1247.5 736.0 1245.5 736.4 1243.5 736.8C1241.5 737.1 1239.6 737.5 1237.6 737.9C1235.6 738.2 1233.6 738.6 1231.6 738.9C1229.7 739.3 1227.7 739.7 1225.7 740.0C1223.7 740.4 1221.7 740.7 1219.7 741.0C1217.8 741.4 1215.8 741.7 1213.8 742.1C1211.8 742.4 1209.8 742.7 1207.8 743.1C1205.9 743.4 1203.9 743.7 1201.9 744.0C1199.9 744.4 1197.9 744.7 1195.9 745.0C1194.0 745.3 1192.0 745.6 1190.0 745.9C1188.0 746.2 1186.0 746.5 1184.0 746.9C1182.1 747.2 1180.1 747.5 1178.1 747.8C1176.1 748.1 1174.1 748.4 1172.1 748.6C1170.1 748.9 1168.2 749.2 1166.2 749.5C1164.2 749.8 1162.2 750.1 1160.2 750.4C1158.2 750.7 1156.3 750.9 1154.3 751.2C1152.3 751.5 1150.3 751.8 1148.3 752.0C1146.3 752.3 1144.3 752.6 1142.4 752.8C1140.4 753.1 1138.4 753.4 1136.4 753.6C1134.4 753.9 1132.4 754.1 1130.4 754.4C1128.5 754.6 1126.5 754.9 1124.5 755.2C1122.5 755.4 1120.5 755.7 1118.5 755.9C1116.5 756.1 1114.5 756.4 1112.6 756.6C1110.6 756.9 1108.6 757.1 1106.6 757.3C1104.6 757.6 1102.6 757.8 1100.6 758.0C1098.6 758.3 1096.7 758.5 1094.7 758.7C1092.7 759.0 1090.7 759.2 1088.7 759.4C1086.7 759.6 1084.7 759.9 1082.7 760.1C1080.8 760.3 1078.8 760.5 1076.8 760.7C1074.8 760.9 1072.8 761.2 1070.8 761.4C1068.8 761.6 1066.8 761.8 1064.8 762.0C1062.9 762.2 1060.9 762.4 1058.9 762.6C1056.9 762.8 1054.9 763.0 1052.9 763.2C1050.9 763.4 1048.9 763.6 1046.9 763.8C1044.9 764.0 1042.9 764.2 1041.0 764.4C1039.0 764.6 1037.0 764.8 1035.0 765.0C1033.0 765.2 1031.0 765.3 1029.0 765.5C1027.0 765.7 1025.0 765.9 1023.0 766.1C1021.0 766.3 1019.0 766.4 1017.1 766.6C1015.1 766.8 1013.1 767.0 1011.1 767.2C1009.1 767.3 1007.1 767.5 1005.1 767.7C1003.1 767.9 1001.1 768.0 999.1 768.2C997.1 768.4 995.1 768.6 993.1 768.7C991.1 768.9 989.1 769.1 987.2 769.2C985.2 769.4 983.2 769.6 981.2 769.7C979.2 769.9 977.2 770.1 975.2 770.2C973.2 770.4 971.2 770.5 969.2 770.7C967.2 770.9 965.2 771.0 963.2 771.2C961.2 771.3 959.2 771.5 957.2 771.7C955.2 771.8 953.2 772.0 951.2 772.1C949.2 772.3 947.2 772.4 945.2 772.6C943.2 772.7 941.2 772.9 939.2 773.0C937.2 773.2 935.2 773.3 933.2 773.5C931.2 773.6 929.2 773.8 927.2 773.9C925.2 774.1 923.2 774.2 921.2 774.4C919.2 774.5 917.2 774.7 915.2 774.8C913.2 775.0 911.2 775.1 909.2 775.3C907.2 775.4 905.2 775.6 903.2 775.7C901.2 775.8 899.2 776.0 897.2 776.1C895.2 776.3 893.2 776.4 891.2 776.6C889.2 776.7 887.2 776.8 885.2 777.0C883.2 777.1 881.2 777.3 879.2 777.4C877.2 777.5 875.2 777.7 873.2 777.8C871.2 778.0 869.2 778.1 867.2 778.3C865.2 778.4 863.1 778.5 861.1 778.7C859.1 778.8 857.1 779.0 855.1 779.1C853.1 779.2 851.1 779.4 849.1 779.5C847.1 779.7 845.1 779.8 843.1 779.9C841.1 780.1 839.1 780.2 837.1 780.4C835.0 780.5 833.0 780.6 831.0 780.8C829.0 780.9 827.0 781.1 825.0 781.2"/><path d="M160.9 955.4C162.9 955.1 164.9 954.8 166.8 954.5C168.8 954.2 170.8 954.0 172.8 953.7C174.8 953.4 176.7 953.2 178.7 952.9C180.7 952.6 182.7 952.4 184.7 952.1C186.6 951.9 188.6 951.6 190.6 951.4C192.6 951.1 194.6 950.9 196.6 950.7C198.6 950.4 200.5 950.2 202.5 950.0C204.5 949.7 206.5 949.5 208.5 949.3C210.5 949.1 212.5 948.8 214.4 948.6C216.4 948.4 218.4 948.2 220.4 948.0C222.4 947.8 224.4 947.6 226.4 947.4C228.4 947.2 230.3 947.0 232.3 946.8C234.3 946.6 236.3 946.4 238.3 946.2C240.3 946.0 242.3 945.9 244.3 945.7C246.3 945.5 248.3 945.3 250.3 945.2C252.2 945.0 254.2 944.8 256.2 944.7C258.2 944.5 260.2 944.3 262.2 944.2C264.2 944.0 266.2 943.9 268.2 943.7C270.2 943.5 272.2 943.4 274.2 943.2C276.2 943.1 278.2 943.0 280.2 942.8C282.2 942.7 284.2 942.5 286.1 942.4C288.1 942.3 290.1 942.1 292.1 942.0C294.1 941.9 296.1 941.7 298.1 941.6C300.1 941.5 302.1 941.4 304.1 941.2C306.1 941.1 308.1 941.0 310.1 940.9C312.1 940.8 314.1 940.7 316.1 940.5C318.1 940.4 320.1 940.3 322.1 940.2C324.1 940.1 326.1 940.0 328.1 939.9C330.1 939.8 332.1 939.7 334.1 939.6C336.1 939.5 338.1 939.4 340.1 939.3C342.1 939.2 344.1 939.1 346.1 939.1C348.1 939.0 350.1 938.9 352.1 938.8C354.1 938.7 356.1 938.6 358.1 938.5C360.1 938.5 362.1 938.4 364.1 938.3C366.1 938.2 368.1 938.1 370.1 938.1C372.1 938.0 374.1 937.9 376.2 937.8C378.2 937.8 380.2 937.7 382.2 937.6C384.2 937.6 386.2 937.5 388.2 937.4C390.2 937.4 392.2 937.3 394.2 937.2C396.2 937.2 398.2 937.1 400.2 937.0C402.2 937.0 404.2 936.9 406.2 936.9C408.2 936.8 410.2 936.7 412.2 936.7C414.2 936.6 416.2 936.6 418.2 936.5C420.2 936.5 422.3 936.4 424.3 936.4C426.3 936.3 428.3 936.3 430.3 936.2C432.3 936.2 434.3 936.1 436.3 936.1C438.3 936.0 440.3 936.0 442.3 935.9C444.3 935.9 446.3 935.8 448.3 935.8C450.3 935.7 452.3 935.7 454.3 935.6C456.3 935.6 458.3 935.5 460.4 935.5C462.4 935.4 464.4 935.4 466.4 935.3C468.4 935.3 470.4 935.3 472.4 935.2C474.4 935.2 476.4 935.1 478.4 935.1C480.4 935.0 482.4 935.0 484.4 934.9C486.4 934.9 488.4 934.9 490.4 934.8C492.4 934.8 494.5 934.7 496.5 934.7C498.5 934.6 500.5 934.6 502.5 934.5C504.5 934.5 506.5 934.5 508.5 934.4C510.5 934.4 512.5 934.3 514.5 934.3C516.5 934.2 518.5 934.2 520.5 934.1C522.5 934.1 524.5 934.0 526.5 934.0C528.5 933.9 530.5 933.9 532.6 933.8C534.6 933.8 536.6 933.7 538.6 933.7C540.6 933.6 542.6 933.6 544.6 933.5C546.6 933.5 548.6 933.4 550.6 933.4C552.6 933.3 554.6 933.3 556.6 933.2C558.6 933.2 560.6 933.1 562.6 933.1C564.6 933.0 566.6 933.0 568.6 932.9C570.6 932.8 572.6 932.8 574.6 932.7C576.6 932.7 578.6 932.6 580.6 932.5C582.6 932.5 584.6 932.4 586.7 932.4C588.7 932.3 590.7 932.2 592.7 932.2C594.7 932.1 596.7 932.1 598.7 932.0C600.7 931.9 602.7 931.9 604.7 931.8C606.7 931.7 608.7 931.7 610.7 931.6C612.7 931.5 614.7 931.5 616.7 931.4C618.7 931.3 620.7 931.3 622.7 931.2C624.7 931.1 626.7 931.1 628.7 931.0C630.7 930.9 632.7 930.8 634.7 930.8C636.7 930.7 638.7 930.6 640.7 930.6C642.7 930.5 644.7 930.4 646.7 930.3C648.7 930.3 650.7 930.2 652.7 930.1C654.7 930.1 656.7 930.0 658.7 929.9C660.7 929.8 662.7 929.8 664.7 929.7C666.7 929.6 668.7 929.5 670.7 929.4C672.7 929.4 674.7 929.3 676.7 929.2C678.7 929.1 680.7 929.1 682.7 929.0C684.7 928.9 686.7 928.8 688.7 928.7C690.7 928.7 692.7 928.6 694.7 928.5C696.7 928.4 698.7 928.3 700.7 928.3C702.7 928.2 704.7 928.1 706.7 928.0C708.7 927.9 710.7 927.9 712.7 927.8C714.7 927.7 716.7 927.6 718.7 927.5C720.7 927.4 722.7 927.4 724.7 927.3C726.7 927.2 728.7 927.1 730.7 927.0C732.7 926.9 734.7 926.8 736.7 926.8C738.7 926.7 740.7 926.6 742.7 926.5C744.7 926.4 746.7 926.3 748.7 926.2C750.7 926.1 752.7 926.1 754.7 926.0C756.7 925.9 758.7 925.8 760.7 925.7C762.7 925.6 764.7 925.5 766.7 925.4C768.7 925.4 770.7 925.3 772.7 925.2C774.7 925.1 776.7 925.0 778.7 924.9C780.7 924.8 782.7 924.7 784.7 924.6C786.7 924.5 788.7 924.5 790.7 924.4C792.7 924.3 794.7 924.2 796.7 924.1C798.7 924.0 800.7 923.9 802.7 923.8C804.7 923.7 806.7 923.6 808.7 923.5C810.7 923.4 812.7 923.4 814.7 923.3C816.7 923.2 818.7 923.1 820.7 923.0C822.7 922.9 824.7 922.8 826.7 922.7C828.7 922.6 830.7 922.5 832.7 922.4C834.7 922.3 836.7 922.2 838.7 922.1C840.7 922.0 842.7 921.9 844.7 921.9C846.7 921.8 848.7 921.7 850.7 921.6C852.7 921.5 854.7 921.4 856.7 921.3C858.7 921.2 860.7 921.1 862.7 921.0C864.7 920.9 866.7 920.8 868.7 920.7C870.7 920.6 872.7 920.5 874.7 920.4C876.7 920.3 878.7 920.2 880.7 920.1C882.7 920.0 884.7 920.0 886.7 919.9C888.7 919.8 890.7 919.7 892.7 919.6C894.7 919.5 896.7 919.4 898.7 919.3C900.7 919.2 902.7 919.1 904.7 919.0C906.7 918.9 908.7 918.8 910.7 918.7C912.7 918.6 914.7 918.5 916.7 918.4C918.7 918.3 920.7 918.2 922.7 918.1C924.7 918.0 926.7 917.9 928.7 917.8C930.7 917.7 932.7 917.7 934.7 917.6C936.7 917.5 938.7 917.4 940.7 917.3C942.7 917.2 944.7 917.1 946.7 917.0C948.7 916.9 950.7 916.8 952.7 916.7C954.7 916.6 956.7 916.5 958.7 916.4C960.7 916.3 962.7 916.2 964.7 916.1C966.7 916.0 968.7 915.9 970.7 915.8C972.7 915.7 974.7 915.7 976.7 915.6C978.7 915.5 980.7 915.4 982.7 915.3C984.7 915.2 986.7 915.1 988.7 915.0C990.7 914.9 992.7 914.8 994.7 914.7C996.7 914.6 998.7 914.5 1000.7 914.4C1002.7 914.3 1004.7 914.3 1006.7 914.2C1008.7 914.1 1010.7 914.0 1012.7 913.9C1014.7 913.8 1016.7 913.7 1018.7 913.6C1020.7 913.5 1022.7 913.4 1024.8 913.3C1026.8 913.2 1028.8 913.1 1030.8 913.1C1032.8 913.0 1034.8 912.9 1036.8 912.8C1038.8 912.7 1040.8 912.6 1042.8 912.5C1044.8 912.4 1046.8 912.3 1048.8 912.2C1050.8 912.1 1052.8 912.0 1054.8 911.9C1056.8 911.8 1058.8 911.8 1060.8 911.7C1062.8 911.6 1064.8 911.5 1066.8 911.4C1068.8 911.3 1070.8 911.2 1072.8 911.1C1074.8 911.0 1076.8 910.9 1078.8 910.8C1080.8 910.7 1082.8 910.6 1084.8 910.5C1086.9 910.4 1088.9 910.3 1090.9 910.2C1092.9 910.1 1094.9 910.0 1096.9 909.9C1098.9 909.8 1100.9 909.7 1102.9 909.6C1104.9 909.5 1106.9 909.4 1108.9 909.3C1110.9 909.2 1112.9 909.1 1114.9 909.0C1116.9 908.9 1118.9 908.8 1120.9 908.7C1122.9 908.6 1124.9 908.5 1126.9 908.4C1128.9 908.3 1130.9 908.1 1132.9 908.0C1134.9 907.9 1136.9 907.8 1138.9 907.7C1140.9 907.6 1142.9 907.5 1144.9 907.4C1146.9 907.2 1148.9 907.1 1150.9 907.0C1152.9 906.9 1154.9 906.8 1156.9 906.7C1158.9 906.5 1160.9 906.4 1162.9 906.3C1164.9 906.2 1166.9 906.1 1168.9 905.9C1170.9 905.8 1172.9 905.7 1174.9 905.6C1176.9 905.4 1178.9 905.3 1180.9 905.2C1182.9 905.0 1184.9 904.9 1186.9 904.8C1188.9 904.6 1190.9 904.5 1192.9 904.4C1194.9 904.2 1196.9 904.1 1198.9 904.0C1200.9 903.8 1202.9 903.7 1204.9 903.5C1206.9 903.4 1208.9 903.3 1210.9 903.1C1212.9 903.0 1214.9 902.8 1216.9 902.7C1218.9 902.5 1220.9 902.4 1222.9 902.2C1224.9 902.1 1226.9 901.9 1228.9 901.8C1230.9 901.6 1232.9 901.4 1234.9 901.3C1236.9 901.1 1238.9 901.0 1240.9 900.8C1242.9 900.6 1244.9 900.5 1246.9 900.3C1248.9 900.1 1250.9 900.0 1252.9 899.8C1254.8 899.6 1256.8 899.4 1258.8 899.3C1260.8 899.1 1262.8 898.9 1264.8 898.7C1266.8 898.5 1268.8 898.4 1270.8 898.2C1272.8 898.0 1274.8 897.8 1276.8 897.6C1278.8 897.4 1280.8 897.2 1282.8 897.0C1284.7 896.8 1286.7 896.6 1288.7 896.4C1290.7 896.2 1292.7 896.0 1294.7 895.8C1296.7 895.6 1298.7 895.4 1300.7 895.2C1302.7 895.0 1304.6 894.8 1306.6 894.6C1308.6 894.4 1310.6 894.1 1312.6 893.9C1314.6 893.7 1316.6 893.5 1318.6 893.2C1320.5 893.0 1322.5 892.8 1324.5 892.6C1326.5 892.3 1328.5 892.1 1330.5 891.9C1332.5 891.6 1334.4 891.4 1336.4 891.1C1338.4 890.9 1340.4 890.6 1342.4 890.4C1344.4 890.2 1346.4 889.9 1348.3 889.6C1350.3 889.4 1352.3 889.1 1354.3 888.9C1356.3 888.6 1358.2 888.3 1360.2 888.1C1362.2 887.8 1364.2 887.5 1366.2 887.3C1368.1 887.0 1370.1 886.7 1372.1 886.4C1374.1 886.2 1376.1 885.9 1378.0 885.6C1380.0 885.3 1382.0 885.0 1384.0 884.7C1386.0 884.4 1387.9 884.1 1389.9 883.8C1391.9 883.5 1393.9 883.2 1395.8 882.9C1397.8 882.6 1399.8 882.3 1401.8 882.0C1403.7 881.7 1405.7 881.4 1407.7 881.0C1409.7 880.7 1411.6 880.4 1413.6 880.1C1415.6 879.7 1417.5 879.4 1419.5 879.1C1421.5 878.7 1423.5 878.4 1425.4 878.0C1427.4 877.7 1429.4 877.3 1431.3 877.0C1433.3 876.6 1435.3 876.2 1437.2 875.9C1439.2 875.5 1441.2 875.1 1443.1 874.8C1445.1 874.4 1447.0 874.0 1449.0 873.6C1451.0 873.2 1452.9 872.8 1454.9 872.4C1456.8 872.0 1458.8 871.6 1460.7 871.2C1462.7 870.7 1464.7 870.3 1466.6 869.9C1468.6 869.4 1470.5 869.0 1472.5 868.5C1474.4 868.1 1476.4 867.6 1478.3 867.2C1480.2 866.7 1482.2 866.2 1484.1 865.8C1486.1 865.3 1488.0 864.8 1490.0 864.3C1491.9 863.8 1493.8 863.3 1495.8 862.8C1497.7 862.3 1499.6 861.7 1501.6 861.2C1503.5 860.7 1505.4 860.1 1507.3 859.6C1509.3 859.0 1511.2 858.4 1513.1 857.9C1515.0 857.3 1517.0 856.7 1518.9 856.1C1520.8 855.5 1522.7 854.9 1524.6 854.3C1526.5 853.7 1528.4 853.1 1530.3 852.4C1532.2 851.8 1534.2 851.1 1536.1 850.5C1538.0 849.8 1539.9 849.2 1541.8 848.5C1543.7 847.8 1545.5 847.1 1547.4 846.4C1549.3 845.7 1551.2 845.0 1553.1 844.2C1555.0 843.5 1556.9 842.8 1558.7 842.0C1560.6 841.2 1562.5 840.5 1564.4 839.7C1566.2 838.9 1568.1 838.1 1570.0 837.3C1571.8 836.5 1573.7 835.7 1575.5 834.8C1577.3 834.0 1579.2 833.1 1581.0 832.2C1582.8 831.4 1584.7 830.5 1586.5 829.6C1588.3 828.7 1590.1 827.8 1591.9 826.8C1593.7 825.9 1595.4 825.0 1597.2 824.0C1599.0 823.0 1600.7 822.1 1602.5 821.1C1604.2 820.1 1605.9 819.0 1607.6 818.0C1609.4 817.0 1611.1 815.9 1612.8 814.8C1614.4 813.8 1616.1 812.7 1617.8 811.6C1619.4 810.5 1621.1 809.4 1622.7 808.2C1624.3 807.1 1625.9 805.9 1627.5 804.7C1629.1 803.5 1630.7 802.3 1632.2 801.1C1633.8 799.9 1635.3 798.6 1636.8 797.4C1638.3 796.1 1639.8 794.8 1641.3 793.5C1642.7 792.2 1644.2 790.9 1645.6 789.5C1647.1 788.2 1648.5 786.8 1649.8 785.4C1651.2 784.0 1652.6 782.6 1653.9 781.2C1655.2 779.7 1656.6 778.3 1657.8 776.8C1659.1 775.3 1660.4 773.8 1661.6 772.2C1662.8 770.7 1664.0 769.1 1665.2 767.6C1666.4 766.0 1667.5 764.4 1668.7 762.8C1669.8 761.1 1670.9 759.5 1672.0 757.8C1673.1 756.2 1674.2 754.5 1675.2 752.8C1676.2 751.1 1677.3 749.4 1678.3 747.7C1679.3 745.9 1680.3 744.2 1681.3 742.4C1682.2 740.7 1683.2 738.9 1684.1 737.1C1685.1 735.3 1686.0 733.6 1686.9 731.8C1687.9 730.0 1688.8 728.1 1689.7 726.3C1690.6 724.5 1691.5 722.7 1692.4 720.9C1693.2 719.0 1694.1 717.2 1695.0 715.4C1695.8 713.5 1696.7 711.7 1697.6 709.8C1698.4 708.0 1699.3 706.2 1700.1 704.3C1701.0 702.5 1701.8 700.6 1702.7 698.8C1703.5 696.9 1704.4 695.1 1705.2 693.3C1706.1 691.4 1706.9 689.6 1707.8 687.8C1708.6 686.0 1709.5 684.1 1710.4 682.3C1711.2 680.5 1712.1 678.7 1713.0 676.9C1713.8 675.1 1714.7 673.3 1715.6 671.5C1716.4 669.7 1717.3 667.9 1718.2 666.1C1719.0 664.3 1719.9 662.5 1720.7 660.7C1721.6 658.9 1722.4 657.2 1723.3 655.4C1724.1 653.6 1724.9 651.7 1725.7 649.9C1726.5 648.1 1727.3 646.3 1728.1 644.5C1728.9 642.7 1729.7 640.8 1730.4 639.0C1731.2 637.2 1732.0 635.3 1732.7 633.5C1733.4 631.6 1734.2 629.8 1734.9 627.9C1735.6 626.1 1736.3 624.2 1737.0 622.3C1737.7 620.5 1738.4 618.6 1739.0 616.7C1739.7 614.9 1740.4 613.0 1741.0 611.1C1741.7 609.2 1742.4 607.3 1743.0 605.4C1743.7 603.5 1744.3 601.6 1744.9 599.7C1745.6 597.8 1746.2 595.9 1746.8 594.0C1747.5 592.1 1748.1 590.2 1748.7 588.3C1749.4 586.4 1750.0 584.5 1750.6 582.6C1751.2 580.7 1751.8 578.8 1752.4 576.9C1753.1 575.0 1753.7 573.1 1754.3 571.1C1754.9 569.2 1755.5 567.3 1756.2 565.4C1756.8 563.5 1757.4 561.6 1758.0 559.7C1758.7 557.8 1759.3 555.9 1759.9 554.0C1760.6 552.1 1761.2 550.2 1761.8 548.3C1762.5 546.4 1763.1 544.5 1763.8 542.6C1764.4 540.7 1765.1 538.8 1765.7 536.9C1766.3 535.0 1767.0 533.1 1767.6 531.2C1768.2 529.3 1768.8 527.4 1769.4 525.5C1770.0 523.6 1770.5 521.7 1771.1 519.8C1771.6 517.9 1772.2 516.0 1772.7 514.1C1773.2 512.2 1773.6 510.2 1774.1 508.3C1774.5 506.4 1774.9 504.5 1775.3 502.6C1775.7 500.6 1776.0 498.7 1776.3 496.7C1776.6 494.8 1776.8 492.9 1777.1 490.9C1777.3 488.9 1777.4 487.0 1777.5 485.0L1777.5 485.0L1774.5 487.5L1768.4 493.7L1761.3 499.8L1757.8 503.5L1757.8 503.5C1756.7 505.2 1755.6 506.8 1754.5 508.5C1753.5 510.2 1752.4 511.9 1751.4 513.6C1750.3 515.3 1749.3 517.0 1748.3 518.8C1747.3 520.5 1746.3 522.2 1745.3 524.0C1744.3 525.7 1743.3 527.4 1742.3 529.2C1741.3 531.0 1740.4 532.7 1739.4 534.5C1738.4 536.2 1737.5 538.0 1736.5 539.8C1735.6 541.5 1734.6 543.3 1733.7 545.1C1732.7 546.9 1731.8 548.7 1730.9 550.4C1729.9 552.2 1729.0 554.0 1728.0 555.8C1727.1 557.6 1726.2 559.4 1725.2 561.1C1724.3 562.9 1723.3 564.7 1722.4 566.5C1721.5 568.3 1720.5 570.1 1719.6 571.8C1718.6 573.6 1717.6 575.4 1716.7 577.2C1715.7 578.9 1714.8 580.7 1713.8 582.5C1712.8 584.2 1711.8 586.0 1710.8 587.7C1709.8 589.5 1708.8 591.2 1707.8 593.0C1706.8 594.7 1705.8 596.4 1704.7 598.1C1703.7 599.9 1702.6 601.6 1701.6 603.3C1700.5 605.0 1699.4 606.7 1698.4 608.4C1697.3 610.1 1696.2 611.8 1695.1 613.5C1694.0 615.1 1692.9 616.8 1691.8 618.5C1690.6 620.1 1689.5 621.8 1688.3 623.4C1687.2 625.1 1686.0 626.7 1684.9 628.4C1683.7 630.0 1682.5 631.6 1681.4 633.2C1680.2 634.8 1679.0 636.5 1677.8 638.1C1676.6 639.7 1675.4 641.3 1674.1 642.8C1672.9 644.4 1671.7 646.0 1670.4 647.6C1669.2 649.2 1667.9 650.7 1666.7 652.3C1665.4 653.8 1664.1 655.4 1662.8 656.9C1661.6 658.5 1660.3 660.0 1659.0 661.5C1657.7 663.0 1656.4 664.6 1655.0 666.1C1653.7 667.6 1652.4 669.1 1651.1 670.6C1649.7 672.1 1648.4 673.6 1647.0 675.0C1645.7 676.5 1644.3 678.0 1642.9 679.4C1641.6 680.9 1640.2 682.4 1638.8 683.8C1637.4 685.3 1636.0 686.7 1634.6 688.1C1633.2 689.6 1631.8 691.0 1630.3 692.4C1628.9 693.8 1627.5 695.2 1626.1 696.6C1624.6 698.0 1623.2 699.4 1621.7 700.8C1620.3 702.2 1618.8 703.5 1617.3 704.9C1615.9 706.3 1614.4 707.6 1612.9 709.0C1611.4 710.3 1609.9 711.7 1608.4 713.0C1606.9 714.3 1605.4 715.7 1603.9 717.0C1602.4 718.3 1600.9 719.6 1599.3 720.9C1597.8 722.2 1596.3 723.5 1594.7 724.8C1593.2 726.0 1591.6 727.3 1590.1 728.6C1588.5 729.9 1586.9 731.1 1585.4 732.4C1583.8 733.6 1582.2 734.9 1580.6 736.1C1579.1 737.3 1577.5 738.5 1575.9 739.8C1574.3 741.0 1572.7 742.2 1571.0 743.4C1569.4 744.6 1567.8 745.8 1566.2 747.0C1564.6 748.1 1562.9 749.3 1561.3 750.5C1559.7 751.6 1558.0 752.8 1556.4 754.0C1554.7 755.1 1553.1 756.2 1551.4 757.4C1549.8 758.5 1548.1 759.6 1546.4 760.7C1544.8 761.8 1543.1 763.0 1541.4 764.0C1539.7 765.1 1538.0 766.2 1536.4 767.3C1534.7 768.4 1533.0 769.5 1531.3 770.5C1529.6 771.6 1527.9 772.6 1526.1 773.7C1524.4 774.7 1522.7 775.8 1521.0 776.8C1519.3 777.8 1517.5 778.8 1515.8 779.8C1514.1 780.8 1512.3 781.8 1510.6 782.8C1508.9 783.8 1507.1 784.8 1505.4 785.8C1503.6 786.7 1501.9 787.7 1500.1 788.7C1498.4 789.6 1496.6 790.6 1494.8 791.5C1493.1 792.4 1491.3 793.4 1489.5 794.3C1487.7 795.2 1485.9 796.1 1484.2 797.0C1482.4 797.9 1480.6 798.8 1478.8 799.7C1477.0 800.6 1475.2 801.5 1473.4 802.4C1471.6 803.2 1469.8 804.1 1468.0 805.0C1466.2 805.8 1464.4 806.7 1462.6 807.5C1460.7 808.4 1458.9 809.2 1457.1 810.0C1455.3 810.8 1453.4 811.7 1451.6 812.5C1449.8 813.3 1447.9 814.1 1446.1 814.9C1444.3 815.7 1442.4 816.4 1440.6 817.2C1438.7 818.0 1436.9 818.8 1435.0 819.5C1433.2 820.3 1431.3 821.1 1429.5 821.8C1427.6 822.6 1425.7 823.3 1423.9 824.0C1422.0 824.8 1420.1 825.5 1418.3 826.2C1416.4 826.9 1414.5 827.7 1412.7 828.4C1410.8 829.1 1408.9 829.8 1407.0 830.5C1405.1 831.2 1403.2 831.8 1401.4 832.5C1399.5 833.2 1397.6 833.9 1395.7 834.5C1393.8 835.2 1391.9 835.9 1390.0 836.5C1388.1 837.2 1386.2 837.8 1384.3 838.5C1382.4 839.1 1380.5 839.7 1378.5 840.4C1376.6 841.0 1374.7 841.6 1372.8 842.2C1370.9 842.8 1369.0 843.4 1367.0 844.0C1365.1 844.7 1363.2 845.2 1361.3 845.8C1359.4 846.4 1357.4 847.0 1355.5 847.6C1353.6 848.2 1351.6 848.7 1349.7 849.3C1347.8 849.9 1345.8 850.4 1343.9 851.0C1342.0 851.5 1340.0 852.1 1338.1 852.6C1336.1 853.2 1334.2 853.7 1332.2 854.3C1330.3 854.8 1328.3 855.3 1326.4 855.8C1324.4 856.4 1322.5 856.9 1320.5 857.4C1318.6 857.9 1316.6 858.4 1314.7 858.9C1312.7 859.4 1310.8 859.9 1308.8 860.4C1306.9 860.9 1304.9 861.4 1302.9 861.8C1301.0 862.3 1299.0 862.8 1297.0 863.3C1295.1 863.7 1293.1 864.2 1291.1 864.7C1289.2 865.1 1287.2 865.6 1285.2 866.0C1283.3 866.5 1281.3 866.9 1279.3 867.4C1277.4 867.8 1275.4 868.3 1273.4 868.7C1271.4 869.1 1269.5 869.5 1267.5 870.0C1265.5 870.4 1263.5 870.8 1261.6 871.2C1259.6 871.6 1257.6 872.1 1255.6 872.5C1253.7 872.9 1251.7 873.3 1249.7 873.7C1247.7 874.1 1245.7 874.5 1243.8 874.9C1241.8 875.2 1239.8 875.6 1237.8 876.0C1235.8 876.4 1233.9 876.8 1231.9 877.2C1229.9 877.5 1227.9 877.9 1225.9 878.3C1223.9 878.6 1222.0 879.0 1220.0 879.4C1218.0 879.7 1216.0 880.1 1214.0 880.4C1212.0 880.8 1210.1 881.1 1208.1 881.5C1206.1 881.8 1204.1 882.2 1202.1 882.5C1200.1 882.9 1198.2 883.2 1196.2 883.5C1194.2 883.9 1192.2 884.2 1190.2 884.5C1188.2 884.8 1186.3 885.2 1184.3 885.5C1182.3 885.8 1180.3 886.1 1178.3 886.4C1176.3 886.8 1174.4 887.1 1172.4 887.4C1170.4 887.7 1168.4 888.0 1166.4 888.3C1164.4 888.6 1162.4 888.9 1160.5 889.2C1158.5 889.5 1156.5 889.8 1154.5 890.1C1152.5 890.4 1150.5 890.7 1148.6 890.9C1146.6 891.2 1144.6 891.5 1142.6 891.8C1140.6 892.1 1138.6 892.3 1136.6 892.6C1134.7 892.9 1132.7 893.2 1130.7 893.4C1128.7 893.7 1126.7 894.0 1124.7 894.2C1122.7 894.5 1120.7 894.8 1118.8 895.0C1116.8 895.3 1114.8 895.5 1112.8 895.8C1110.8 896.0 1108.8 896.3 1106.8 896.5C1104.9 896.8 1102.9 897.0 1100.9 897.3C1098.9 897.5 1096.9 897.8 1094.9 898.0C1092.9 898.2 1090.9 898.5 1088.9 898.7C1087.0 899.0 1085.0 899.2 1083.0 899.4C1081.0 899.7 1079.0 899.9 1077.0 900.1C1075.0 900.3 1073.0 900.6 1071.0 900.8C1069.1 901.0 1067.1 901.2 1065.1 901.4C1063.1 901.7 1061.1 901.9 1059.1 902.1C1057.1 902.3 1055.1 902.5 1053.1 902.7C1051.1 902.9 1049.2 903.2 1047.2 903.4C1045.2 903.6 1043.2 903.8 1041.2 904.0C1039.2 904.2 1037.2 904.4 1035.2 904.6C1033.2 904.8 1031.2 905.0 1029.2 905.2C1027.2 905.4 1025.3 905.6 1023.3 905.8C1021.3 906.0 1019.3 906.2 1017.3 906.4C1015.3 906.5 1013.3 906.7 1011.3 906.9C1009.3 907.1 1007.3 907.3 1005.3 907.5C1003.3 907.7 1001.3 907.9 999.3 908.0C997.3 908.2 995.3 908.4 993.3 908.6C991.4 908.8 989.4 908.9 987.4 909.1C985.4 909.3 983.4 909.5 981.4 909.7C979.4 909.8 977.4 910.0 975.4 910.2C973.4 910.3 971.4 910.5 969.4 910.7C967.4 910.9 965.4 911.0 963.4 911.2C961.4 911.4 959.4 911.5 957.4 911.7C955.4 911.9 953.4 912.0 951.4 912.2C949.4 912.4 947.4 912.5 945.4 912.7C943.4 912.9 941.4 913.0 939.4 913.2C937.4 913.4 935.4 913.5 933.4 913.7C931.4 913.8 929.4 914.0 927.4 914.2C925.4 914.3 923.4 914.5 921.4 914.6C919.4 914.8 917.4 915.0 915.4 915.1C913.4 915.3 911.4 915.4 909.4 915.6C907.4 915.7 905.4 915.9 903.4 916.1C901.4 916.2 899.3 916.4 897.3 916.5C895.3 916.7 893.3 916.8 891.3 917.0C889.3 917.1 887.3 917.3 885.3 917.5C883.3 917.6 881.3 917.8 879.3 917.9C877.3 918.1 875.3 918.2 873.3 918.4C871.3 918.5 869.2 918.7 867.2 918.8C865.2 919.0 863.2 919.2 861.2 919.3C859.2 919.5 857.2 919.6 855.2 919.8C853.2 919.9 851.2 920.1 849.1 920.2C847.1 920.4 845.1 920.5 843.1 920.7C841.1 920.9 839.1 921.0 837.1 921.2C835.1 921.3 833.1 921.5 831.0 921.6C829.0 921.8 827.0 922.0 825.0 922.1"/><path d="M170.6 1101.4C172.5 1100.9 174.5 1100.4 176.4 1099.9C178.4 1099.4 180.3 1098.9 182.3 1098.4C184.2 1098.0 186.2 1097.5 188.2 1097.1C190.1 1096.7 192.1 1096.3 194.0 1095.9C196.0 1095.5 198.0 1095.1 199.9 1094.8C201.9 1094.4 203.9 1094.1 205.8 1093.7C207.8 1093.4 209.8 1093.1 211.8 1092.8C213.7 1092.5 215.7 1092.2 217.7 1091.9C219.7 1091.6 221.6 1091.4 223.6 1091.1C225.6 1090.8 227.6 1090.6 229.6 1090.4C231.6 1090.1 233.5 1089.9 235.5 1089.7C237.5 1089.5 239.5 1089.3 241.5 1089.1C243.5 1088.9 245.5 1088.8 247.5 1088.6C249.5 1088.4 251.5 1088.3 253.4 1088.1C255.4 1088.0 257.4 1087.8 259.4 1087.7C261.4 1087.6 263.4 1087.4 265.4 1087.3C267.4 1087.2 269.4 1087.1 271.4 1087.0C273.4 1086.9 275.4 1086.8 277.4 1086.7C279.4 1086.6 281.4 1086.5 283.4 1086.4C285.4 1086.3 287.4 1086.2 289.4 1086.1C291.4 1086.1 293.4 1086.0 295.4 1085.9C297.4 1085.8 299.4 1085.8 301.4 1085.7C303.4 1085.6 305.4 1085.6 307.5 1085.5C309.5 1085.5 311.5 1085.4 313.5 1085.3C315.5 1085.3 317.5 1085.2 319.5 1085.2C321.5 1085.1 323.5 1085.0 325.5 1085.0C327.5 1084.9 329.5 1084.9 331.5 1084.8C333.5 1084.7 335.5 1084.7 337.5 1084.6C339.5 1084.6 341.5 1084.5 343.5 1084.4C345.5 1084.4 347.5 1084.3 349.5 1084.3C351.5 1084.2 353.5 1084.1 355.5 1084.1C357.5 1084.0 359.6 1083.9 361.6 1083.9C363.6 1083.8 365.6 1083.8 367.6 1083.7C369.6 1083.6 371.6 1083.6 373.6 1083.5C375.6 1083.4 377.6 1083.4 379.6 1083.3C381.6 1083.2 383.6 1083.2 385.6 1083.1C387.6 1083.0 389.6 1083.0 391.6 1082.9C393.6 1082.8 395.6 1082.8 397.6 1082.7C399.6 1082.6 401.6 1082.6 403.6 1082.5C405.6 1082.4 407.6 1082.4 409.6 1082.3C411.6 1082.2 413.6 1082.2 415.6 1082.1C417.6 1082.0 419.6 1081.9 421.6 1081.9C423.6 1081.8 425.6 1081.7 427.6 1081.7C429.6 1081.6 431.6 1081.5 433.6 1081.5C435.6 1081.4 437.6 1081.3 439.6 1081.2C441.6 1081.2 443.6 1081.1 445.6 1081.0C447.6 1080.9 449.6 1080.9 451.6 1080.8C453.6 1080.7 455.6 1080.7 457.6 1080.6C459.6 1080.5 461.6 1080.4 463.6 1080.4C465.6 1080.3 467.6 1080.2 469.6 1080.1C471.6 1080.1 473.6 1080.0 475.6 1079.9C477.6 1079.8 479.6 1079.8 481.6 1079.7C483.6 1079.6 485.6 1079.5 487.6 1079.5C489.6 1079.4 491.6 1079.3 493.6 1079.2C495.6 1079.2 497.6 1079.1 499.6 1079.0C501.6 1078.9 503.6 1078.9 505.6 1078.8C507.6 1078.7 509.6 1078.6 511.6 1078.5C513.6 1078.5 515.6 1078.4 517.6 1078.3C519.6 1078.2 521.6 1078.2 523.6 1078.1C525.6 1078.0 527.6 1077.9 529.6 1077.8C531.6 1077.8 533.6 1077.7 535.6 1077.6C537.6 1077.5 539.6 1077.5 541.6 1077.4C543.6 1077.3 545.6 1077.2 547.6 1077.1C549.6 1077.1 551.6 1077.0 553.6 1076.9C555.6 1076.8 557.6 1076.7 559.6 1076.7C561.6 1076.6 563.6 1076.5 565.6 1076.4C567.6 1076.3 569.6 1076.3 571.6 1076.2C573.6 1076.1 575.6 1076.0 577.6 1075.9C579.6 1075.9 581.6 1075.8 583.6 1075.7C585.6 1075.6 587.6 1075.5 589.6 1075.5C591.6 1075.4 593.6 1075.3 595.6 1075.2C597.6 1075.1 599.6 1075.1 601.6 1075.0C603.6 1074.9 605.6 1074.8 607.6 1074.7C609.6 1074.6 611.6 1074.6 613.6 1074.5C615.6 1074.4 617.6 1074.3 619.6 1074.2C621.6 1074.2 623.6 1074.1 625.6 1074.0C627.6 1073.9 629.6 1073.8 631.6 1073.8C633.6 1073.7 635.6 1073.6 637.5 1073.5C639.5 1073.4 641.5 1073.3 643.5 1073.3C645.5 1073.2 647.5 1073.1 649.5 1073.0C651.5 1072.9 653.5 1072.9 655.5 1072.8C657.5 1072.7 659.5 1072.6 661.5 1072.5C663.5 1072.4 665.5 1072.4 667.5 1072.3C669.5 1072.2 671.5 1072.1 673.5 1072.0C675.5 1072.0 677.5 1071.9 679.5 1071.8C681.5 1071.7 683.5 1071.6 685.5 1071.5C687.5 1071.5 689.5 1071.4 691.5 1071.3C693.5 1071.2 695.5 1071.1 697.5 1071.1C699.5 1071.0 701.5 1070.9 703.5 1070.8C705.5 1070.7 707.5 1070.7 709.5 1070.6C711.6 1070.5 713.6 1070.4 715.6 1070.3C717.6 1070.2 719.6 1070.2 721.6 1070.1C723.6 1070.0 725.6 1069.9 727.6 1069.8C729.6 1069.8 731.6 1069.7 733.6 1069.6C735.6 1069.5 737.6 1069.4 739.6 1069.4C741.6 1069.3 743.6 1069.2 745.6 1069.1C747.6 1069.0 749.6 1068.9 751.6 1068.9C753.6 1068.8 755.6 1068.7 757.6 1068.6C759.6 1068.5 761.6 1068.5 763.6 1068.4C765.6 1068.3 767.6 1068.2 769.6 1068.1C771.6 1068.1 773.6 1068.0 775.6 1067.9C777.6 1067.8 779.6 1067.7 781.6 1067.7C783.6 1067.6 785.6 1067.5 787.6 1067.4C789.6 1067.3 791.6 1067.2 793.6 1067.2C795.6 1067.1 797.6 1067.0 799.6 1066.9C801.6 1066.8 803.6 1066.8 805.6 1066.7C807.6 1066.6 809.6 1066.5 811.6 1066.4C813.6 1066.4 815.6 1066.3 817.6 1066.2C819.6 1066.1 821.6 1066.0 823.6 1065.9C825.6 1065.9 827.6 1065.8 829.7 1065.7C831.7 1065.6 833.7 1065.5 835.7 1065.5C837.7 1065.4 839.7 1065.3 841.7 1065.2C843.7 1065.1 845.7 1065.0 847.7 1065.0C849.7 1064.9 851.7 1064.8 853.7 1064.7C855.7 1064.6 857.7 1064.5 859.7 1064.5C861.7 1064.4 863.7 1064.3 865.7 1064.2C867.7 1064.1 869.7 1064.1 871.7 1064.0C873.7 1063.9 875.7 1063.8 877.7 1063.7C879.7 1063.6 881.7 1063.6 883.7 1063.5C885.7 1063.4 887.7 1063.3 889.7 1063.2C891.7 1063.1 893.7 1063.1 895.7 1063.0C897.7 1062.9 899.7 1062.8 901.7 1062.7C903.7 1062.6 905.7 1062.5 907.7 1062.5C909.7 1062.4 911.7 1062.3 913.7 1062.2C915.7 1062.1 917.7 1062.0 919.7 1062.0C921.7 1061.9 923.7 1061.8 925.8 1061.7C927.8 1061.6 929.8 1061.5 931.8 1061.4C933.8 1061.4 935.8 1061.3 937.8 1061.2C939.8 1061.1 941.8 1061.0 943.8 1060.9C945.8 1060.8 947.8 1060.8 949.8 1060.7C951.8 1060.6 953.8 1060.5 955.8 1060.4C957.8 1060.3 959.8 1060.2 961.8 1060.1C963.8 1060.1 965.8 1060.0 967.8 1059.9C969.8 1059.8 971.8 1059.7 973.8 1059.6C975.8 1059.5 977.8 1059.4 979.8 1059.4C981.8 1059.3 983.8 1059.2 985.8 1059.1C987.8 1059.0 989.8 1058.9 991.8 1058.8C993.8 1058.7 995.8 1058.6 997.8 1058.5C999.8 1058.5 1001.8 1058.4 1003.8 1058.3C1005.8 1058.2 1007.8 1058.1 1009.8 1058.0C1011.8 1057.9 1013.8 1057.8 1015.8 1057.7C1017.8 1057.6 1019.8 1057.5 1021.8 1057.5C1023.8 1057.4 1025.8 1057.3 1027.8 1057.2C1029.8 1057.1 1031.8 1057.0 1033.8 1056.9C1035.8 1056.8 1037.8 1056.7 1039.8 1056.6C1041.8 1056.5 1043.8 1056.4 1045.8 1056.3C1047.8 1056.2 1049.8 1056.2 1051.8 1056.1C1053.8 1056.0 1055.8 1055.9 1057.8 1055.8C1059.8 1055.7 1061.8 1055.6 1063.8 1055.5C1065.8 1055.4 1067.8 1055.3 1069.8 1055.2C1071.8 1055.1 1073.8 1055.0 1075.8 1054.9C1077.8 1054.8 1079.8 1054.7 1081.8 1054.6C1083.8 1054.5 1085.8 1054.4 1087.7 1054.3C1089.7 1054.2 1091.7 1054.1 1093.7 1054.0C1095.7 1053.9 1097.7 1053.8 1099.7 1053.7C1101.7 1053.6 1103.7 1053.5 1105.7 1053.3C1107.7 1053.2 1109.7 1053.1 1111.7 1053.0C1113.7 1052.9 1115.7 1052.8 1117.7 1052.7C1119.7 1052.6 1121.7 1052.5 1123.7 1052.4C1125.7 1052.2 1127.7 1052.1 1129.7 1052.0C1131.7 1051.9 1133.7 1051.8 1135.7 1051.7C1137.7 1051.5 1139.7 1051.4 1141.7 1051.3C1143.6 1051.2 1145.6 1051.0 1147.6 1050.9C1149.6 1050.8 1151.6 1050.7 1153.6 1050.5C1155.6 1050.4 1157.6 1050.3 1159.6 1050.2C1161.6 1050.0 1163.6 1049.9 1165.6 1049.8C1167.6 1049.6 1169.6 1049.5 1171.6 1049.4C1173.6 1049.2 1175.6 1049.1 1177.6 1048.9C1179.5 1048.8 1181.5 1048.7 1183.5 1048.5C1185.5 1048.4 1187.5 1048.2 1189.5 1048.1C1191.5 1047.9 1193.5 1047.8 1195.5 1047.6C1197.5 1047.5 1199.5 1047.3 1201.5 1047.2C1203.5 1047.0 1205.5 1046.9 1207.4 1046.7C1209.4 1046.5 1211.4 1046.4 1213.4 1046.2C1215.4 1046.1 1217.4 1045.9 1219.4 1045.7C1221.4 1045.6 1223.4 1045.4 1225.4 1045.2C1227.4 1045.1 1229.4 1044.9 1231.3 1044.7C1233.3 1044.5 1235.3 1044.3 1237.3 1044.2C1239.3 1044.0 1241.3 1043.8 1243.3 1043.6C1245.3 1043.4 1247.3 1043.2 1249.3 1043.1C1251.2 1042.9 1253.2 1042.7 1255.2 1042.5C1257.2 1042.3 1259.2 1042.1 1261.2 1041.9C1263.2 1041.7 1265.2 1041.5 1267.2 1041.3C1269.1 1041.1 1271.1 1040.9 1273.1 1040.6C1275.1 1040.4 1277.1 1040.2 1279.1 1040.0C1281.1 1039.8 1283.1 1039.6 1285.1 1039.4C1287.0 1039.1 1289.0 1038.9 1291.0 1038.7C1293.0 1038.4 1295.0 1038.2 1297.0 1038.0C1299.0 1037.8 1301.0 1037.5 1302.9 1037.3C1304.9 1037.0 1306.9 1036.8 1308.9 1036.5C1310.9 1036.3 1312.9 1036.1 1314.9 1035.8C1316.8 1035.6 1318.8 1035.3 1320.8 1035.0C1322.8 1034.8 1324.8 1034.5 1326.8 1034.3C1328.8 1034.0 1330.7 1033.7 1332.7 1033.5C1334.7 1033.2 1336.7 1032.9 1338.7 1032.6C1340.7 1032.4 1342.6 1032.1 1344.6 1031.8C1346.6 1031.5 1348.6 1031.2 1350.6 1030.9C1352.6 1030.6 1354.5 1030.3 1356.5 1030.0C1358.5 1029.7 1360.5 1029.4 1362.5 1029.1C1364.5 1028.8 1366.4 1028.5 1368.4 1028.2C1370.4 1027.9 1372.4 1027.6 1374.4 1027.3C1376.3 1026.9 1378.3 1026.6 1380.3 1026.3C1382.3 1025.9 1384.3 1025.6 1386.3 1025.3C1388.2 1024.9 1390.2 1024.6 1392.2 1024.3C1394.2 1023.9 1396.2 1023.6 1398.1 1023.2C1400.1 1022.9 1402.1 1022.5 1404.1 1022.2C1406.0 1021.8 1408.0 1021.4 1410.0 1021.1C1412.0 1020.7 1414.0 1020.3 1415.9 1019.9C1417.9 1019.6 1419.9 1019.2 1421.9 1018.8C1423.9 1018.4 1425.8 1018.0 1427.8 1017.6C1429.8 1017.2 1431.8 1016.8 1433.7 1016.4C1435.7 1016.0 1437.7 1015.6 1439.7 1015.2C1441.6 1014.8 1443.6 1014.4 1445.6 1013.9C1447.5 1013.5 1449.5 1013.1 1451.5 1012.6C1453.4 1012.2 1455.4 1011.7 1457.4 1011.3C1459.3 1010.8 1461.3 1010.4 1463.2 1009.9C1465.2 1009.4 1467.1 1008.9 1469.1 1008.4C1471.0 1007.9 1473.0 1007.4 1474.9 1006.9C1476.9 1006.4 1478.8 1005.9 1480.7 1005.4C1482.7 1004.8 1484.6 1004.3 1486.5 1003.7C1488.5 1003.2 1490.4 1002.6 1492.3 1002.1C1494.2 1001.5 1496.1 1000.9 1498.0 1000.3C1499.9 999.7 1501.8 999.1 1503.7 998.5C1505.6 997.8 1507.5 997.2 1509.4 996.6C1511.3 995.9 1513.2 995.2 1515.0 994.6C1516.9 993.9 1518.8 993.2 1520.6 992.5C1522.5 991.8 1524.3 991.1 1526.2 990.3C1528.0 989.6 1529.9 988.9 1531.7 988.1C1533.5 987.3 1535.3 986.5 1537.2 985.7C1539.0 984.9 1540.8 984.1 1542.6 983.3C1544.4 982.5 1546.2 981.6 1547.9 980.8C1549.7 979.9 1551.5 979.0 1553.3 978.1C1555.0 977.2 1556.8 976.3 1558.5 975.4C1560.3 974.4 1562.0 973.5 1563.7 972.5C1565.5 971.5 1567.2 970.5 1568.9 969.5C1570.6 968.5 1572.3 967.5 1574.0 966.4C1575.7 965.4 1577.3 964.3 1579.0 963.2C1580.7 962.1 1582.3 961.0 1584.0 959.9C1585.6 958.7 1587.2 957.6 1588.9 956.4C1590.5 955.3 1592.1 954.1 1593.7 952.9C1595.3 951.7 1596.9 950.5 1598.4 949.2C1600.0 948.0 1601.6 946.7 1603.1 945.5C1604.6 944.2 1606.2 942.9 1607.7 941.6C1609.2 940.3 1610.7 939.0 1612.2 937.7C1613.7 936.3 1615.2 935.0 1616.6 933.6C1618.1 932.2 1619.5 930.8 1621.0 929.5C1622.4 928.1 1623.8 926.6 1625.2 925.2C1626.6 923.8 1628.0 922.3 1629.4 920.9C1630.7 919.4 1632.1 917.9 1633.4 916.5C1634.8 915.0 1636.1 913.5 1637.4 911.9C1638.7 910.4 1640.0 908.9 1641.3 907.4C1642.5 905.8 1643.8 904.3 1645.0 902.7C1646.3 901.1 1647.5 899.5 1648.7 897.9C1649.9 896.3 1651.1 894.7 1652.2 893.1C1653.4 891.5 1654.6 889.8 1655.7 888.2C1656.8 886.5 1657.9 884.9 1659.0 883.2C1660.1 881.5 1661.2 879.9 1662.2 878.2C1663.3 876.5 1664.3 874.8 1665.3 873.0C1666.3 871.3 1667.3 869.6 1668.3 867.9C1669.2 866.1 1670.2 864.4 1671.1 862.6C1672.0 860.9 1673.0 859.1 1673.8 857.3C1674.7 855.5 1675.6 853.7 1676.5 851.9C1677.3 850.1 1678.2 848.3 1679.0 846.5C1679.8 844.7 1680.6 842.9 1681.4 841.1C1682.2 839.2 1683.0 837.4 1683.8 835.6C1684.6 833.7 1685.3 831.9 1686.1 830.0C1686.8 828.2 1687.5 826.3 1688.3 824.5C1689.0 822.6 1689.7 820.7 1690.4 818.8C1691.1 817.0 1691.8 815.1 1692.5 813.2C1693.2 811.3 1693.9 809.5 1694.6 807.6C1695.3 805.7 1696.0 803.8 1696.7 801.9C1697.4 800.0 1698.0 798.1 1698.7 796.2C1699.4 794.4 1700.0 792.5 1700.7 790.6C1701.4 788.7 1702.1 786.8 1702.7 784.9C1703.4 783.0 1704.1 781.1 1704.7 779.2C1705.4 777.3 1706.1 775.4 1706.7 773.5C1707.4 771.6 1708.0 769.7 1708.7 767.8C1709.3 765.9 1710.0 764.0 1710.6 762.1C1711.3 760.2 1711.9 758.3 1712.6 756.4C1713.2 754.5 1713.9 752.6 1714.5 750.7C1715.2 748.8 1715.8 746.9 1716.4 745.0C1717.1 743.1 1717.7 741.2 1718.3 739.3C1718.9 737.4 1719.6 735.5 1720.2 733.6C1720.8 731.6 1721.4 729.7 1722.0 727.8C1722.6 725.9 1723.2 724.0 1723.8 722.1C1724.4 720.2 1725.0 718.3 1725.6 716.4C1726.2 714.5 1726.8 712.6 1727.4 710.7C1728.0 708.7 1728.6 706.8 1729.1 704.9C1729.7 703.0 1730.3 701.1 1730.8 699.2C1731.4 697.3 1732.0 695.4 1732.5 693.4C1733.1 691.5 1733.6 689.6 1734.1 687.7C1734.7 685.8 1735.2 683.9 1735.7 681.9C1736.2 680.0 1736.7 678.1 1737.2 676.2C1737.7 674.3 1738.2 672.3 1738.6 670.4C1739.1 668.5 1739.5 666.6 1739.9 664.6C1740.4 662.7 1740.8 660.8 1741.2 658.8C1741.6 656.9 1742.0 655.0 1742.3 653.0C1742.7 651.1 1743.0 649.1 1743.4 647.2C1743.7 645.3 1744.0 643.3 1744.3 641.4C1744.5 639.4 1744.8 637.5 1745.0 635.5L1745.0 635.5C1743.4 636.8 1741.8 638.0 1740.3 639.3C1738.8 640.7 1737.3 642.0 1735.9 643.4C1734.5 644.8 1733.1 646.2 1731.8 647.7C1730.4 649.2 1729.2 650.7 1727.9 652.2C1726.7 653.7 1725.5 655.3 1724.3 656.9C1723.1 658.4 1722.0 660.0 1720.9 661.7C1719.8 663.3 1718.8 665.0 1717.7 666.6C1716.7 668.3 1715.7 670.0 1714.7 671.7C1713.7 673.5 1712.8 675.2 1711.8 676.9C1710.9 678.7 1710.0 680.5 1709.1 682.3C1708.2 684.0 1707.3 685.8 1706.5 687.6C1705.6 689.5 1704.8 691.3 1703.9 693.1C1703.1 694.9 1702.3 696.8 1701.4 698.6C1700.6 700.5 1699.8 702.3 1699.0 704.1C1698.2 706.0 1697.4 707.9 1696.6 709.7C1695.8 711.6 1695.0 713.4 1694.2 715.3C1693.4 717.1 1692.6 719.0 1691.7 720.8C1690.9 722.7 1690.1 724.5 1689.2 726.3C1688.4 728.2 1687.6 730.0 1686.7 731.8C1685.8 733.6 1684.9 735.4 1684.0 737.2C1683.1 739.0 1682.2 740.8 1681.3 742.5C1680.3 744.3 1679.4 746.1 1678.4 747.8C1677.4 749.5 1676.4 751.2 1675.3 752.9C1674.3 754.6 1673.2 756.3 1672.1 757.9C1671.0 759.6 1669.9 761.2 1668.7 762.8C1667.6 764.5 1666.4 766.1 1665.2 767.6C1664.0 769.2 1662.8 770.8 1661.6 772.4C1660.4 773.9 1659.1 775.5 1657.9 777.0C1656.6 778.6 1655.4 780.1 1654.1 781.7C1652.8 783.2 1651.6 784.7 1650.3 786.3C1649.0 787.8 1647.7 789.3 1646.4 790.8C1645.2 792.4 1643.9 793.9 1642.6 795.4C1641.3 796.9 1640.1 798.5 1638.8 800.0C1637.5 801.5 1636.3 803.1 1635.0 804.6C1633.7 806.1 1632.5 807.7 1631.2 809.2C1629.9 810.7 1628.7 812.3 1627.4 813.8C1626.1 815.3 1624.8 816.8 1623.6 818.4C1622.3 819.9 1621.0 821.4 1619.7 822.9C1618.4 824.4 1617.0 825.8 1615.7 827.3C1614.4 828.8 1613.0 830.2 1611.6 831.7C1610.3 833.1 1608.9 834.5 1607.5 836.0C1606.1 837.4 1604.7 838.8 1603.3 840.2C1601.9 841.6 1600.4 843.0 1599.0 844.3C1597.5 845.7 1596.1 847.1 1594.6 848.4C1593.1 849.8 1591.7 851.1 1590.2 852.5C1588.7 853.8 1587.2 855.2 1585.7 856.5C1584.2 857.8 1582.7 859.2 1581.2 860.5C1579.7 861.8 1578.2 863.1 1576.7 864.4C1575.2 865.8 1573.6 867.1 1572.1 868.4C1570.6 869.7 1569.1 871.0 1567.5 872.3C1566.0 873.6 1564.5 874.9 1563.0 876.2C1561.4 877.5 1559.9 878.8 1558.3 880.1C1556.8 881.4 1555.3 882.6 1553.7 883.9C1552.2 885.2 1550.6 886.4 1549.1 887.7C1547.5 889.0 1545.9 890.2 1544.4 891.4C1542.8 892.7 1541.2 893.9 1539.6 895.1C1538.1 896.3 1536.5 897.6 1534.9 898.8C1533.3 900.0 1531.7 901.2 1530.1 902.3C1528.5 903.5 1526.9 904.7 1525.3 905.9C1523.6 907.0 1522.0 908.2 1520.4 909.3C1518.8 910.5 1517.1 911.6 1515.5 912.7C1513.8 913.8 1512.2 914.9 1510.5 916.0C1508.8 917.1 1507.2 918.2 1505.5 919.3C1503.8 920.4 1502.1 921.4 1500.4 922.5C1498.7 923.5 1497.0 924.6 1495.3 925.6C1493.6 926.6 1491.9 927.6 1490.2 928.7C1488.4 929.7 1486.7 930.7 1485.0 931.6C1483.2 932.6 1481.5 933.6 1479.7 934.6C1478.0 935.5 1476.2 936.5 1474.5 937.4C1472.7 938.4 1470.9 939.3 1469.2 940.3C1467.4 941.2 1465.6 942.1 1463.8 943.0C1462.0 943.9 1460.2 944.8 1458.4 945.7C1456.7 946.6 1454.9 947.5 1453.0 948.3C1451.2 949.2 1449.4 950.1 1447.6 950.9C1445.8 951.8 1444.0 952.6 1442.2 953.5C1440.3 954.3 1438.5 955.1 1436.7 956.0C1434.8 956.8 1433.0 957.6 1431.2 958.4C1429.3 959.2 1427.5 960.0 1425.6 960.8C1423.8 961.6 1421.9 962.3 1420.1 963.1C1418.2 963.9 1416.4 964.6 1414.5 965.4C1412.6 966.2 1410.8 966.9 1408.9 967.7C1407.1 968.4 1405.2 969.1 1403.3 969.9C1401.4 970.6 1399.6 971.3 1397.7 972.0C1395.8 972.8 1393.9 973.5 1392.1 974.2C1390.2 974.9 1388.3 975.6 1386.4 976.3C1384.5 976.9 1382.7 977.6 1380.8 978.3C1378.9 979.0 1377.0 979.7 1375.1 980.3C1373.2 981.0 1371.3 981.6 1369.4 982.3C1367.5 982.9 1365.6 983.6 1363.7 984.2C1361.8 984.9 1359.9 985.5 1358.0 986.1C1356.1 986.8 1354.2 987.4 1352.3 988.0C1350.4 988.6 1348.5 989.2 1346.6 989.8C1344.7 990.4 1342.8 991.0 1340.9 991.6C1339.0 992.2 1337.1 992.8 1335.2 993.4C1333.2 994.0 1331.3 994.6 1329.4 995.1C1327.5 995.7 1325.6 996.3 1323.7 996.8C1321.7 997.4 1319.8 997.9 1317.9 998.5C1316.0 999.0 1314.0 999.6 1312.1 1000.1C1310.2 1000.7 1308.3 1001.2 1306.3 1001.7C1304.4 1002.2 1302.5 1002.8 1300.5 1003.3C1298.6 1003.8 1296.7 1004.3 1294.8 1004.8C1292.8 1005.3 1290.9 1005.8 1288.9 1006.3C1287.0 1006.8 1285.1 1007.3 1283.1 1007.8C1281.2 1008.3 1279.3 1008.8 1277.3 1009.2C1275.4 1009.7 1273.4 1010.2 1271.5 1010.7C1269.5 1011.1 1267.6 1011.6 1265.7 1012.0C1263.7 1012.5 1261.8 1012.9 1259.8 1013.4C1257.9 1013.8 1255.9 1014.3 1254.0 1014.7C1252.0 1015.2 1250.1 1015.6 1248.1 1016.0C1246.2 1016.4 1244.2 1016.9 1242.3 1017.3C1240.3 1017.7 1238.3 1018.1 1236.4 1018.5C1234.4 1018.9 1232.5 1019.4 1230.5 1019.8C1228.6 1020.2 1226.6 1020.6 1224.6 1020.9C1222.7 1021.3 1220.7 1021.7 1218.8 1022.1C1216.8 1022.5 1214.8 1022.9 1212.9 1023.3C1210.9 1023.6 1209.0 1024.0 1207.0 1024.4C1205.0 1024.7 1203.1 1025.1 1201.1 1025.5C1199.1 1025.8 1197.2 1026.2 1195.2 1026.5C1193.2 1026.9 1191.3 1027.2 1189.3 1027.6C1187.3 1027.9 1185.3 1028.3 1183.4 1028.6C1181.4 1028.9 1179.4 1029.3 1177.5 1029.6C1175.5 1029.9 1173.5 1030.3 1171.5 1030.6C1169.6 1030.9 1167.6 1031.2 1165.6 1031.5C1163.6 1031.9 1161.7 1032.2 1159.7 1032.5C1157.7 1032.8 1155.7 1033.1 1153.8 1033.4C1151.8 1033.7 1149.8 1034.0 1147.8 1034.3C1145.9 1034.6 1143.9 1034.9 1141.9 1035.2C1139.9 1035.4 1137.9 1035.7 1136.0 1036.0C1134.0 1036.3 1132.0 1036.6 1130.0 1036.8C1128.0 1037.1 1126.0 1037.4 1124.1 1037.7C1122.1 1037.9 1120.1 1038.2 1118.1 1038.5C1116.1 1038.7 1114.1 1039.0 1112.2 1039.3C1110.2 1039.5 1108.2 1039.8 1106.2 1040.0C1104.2 1040.3 1102.2 1040.5 1100.2 1040.8C1098.3 1041.0 1096.3 1041.3 1094.3 1041.5C1092.3 1041.8 1090.3 1042.0 1088.3 1042.2C1086.3 1042.5 1084.3 1042.7 1082.3 1042.9C1080.4 1043.2 1078.4 1043.4 1076.4 1043.6C1074.4 1043.9 1072.4 1044.1 1070.4 1044.3C1068.4 1044.5 1066.4 1044.7 1064.4 1045.0C1062.4 1045.2 1060.4 1045.4 1058.5 1045.6C1056.5 1045.8 1054.5 1046.0 1052.5 1046.3C1050.5 1046.5 1048.5 1046.7 1046.5 1046.9C1044.5 1047.1 1042.5 1047.3 1040.5 1047.5C1038.5 1047.7 1036.5 1047.9 1034.5 1048.1C1032.5 1048.3 1030.5 1048.5 1028.5 1048.7C1026.5 1048.9 1024.6 1049.1 1022.6 1049.3C1020.6 1049.5 1018.6 1049.6 1016.6 1049.8C1014.6 1050.0 1012.6 1050.2 1010.6 1050.4C1008.6 1050.6 1006.6 1050.8 1004.6 1051.0C1002.6 1051.1 1000.6 1051.3 998.6 1051.5C996.6 1051.7 994.6 1051.9 992.6 1052.0C990.6 1052.2 988.6 1052.4 986.6 1052.6C984.6 1052.7 982.6 1052.9 980.6 1053.1C978.6 1053.3 976.6 1053.4 974.6 1053.6C972.6 1053.8 970.6 1054.0 968.6 1054.1C966.6 1054.3 964.6 1054.5 962.6 1054.6C960.6 1054.8 958.7 1055.0 956.7 1055.1C954.7 1055.3 952.7 1055.5 950.7 1055.6C948.7 1055.8 946.7 1056.0 944.7 1056.1C942.7 1056.3 940.7 1056.4 938.7 1056.6C936.7 1056.8 934.7 1056.9 932.7 1057.1C930.7 1057.2 928.7 1057.4 926.7 1057.6C924.7 1057.7 922.7 1057.9 920.7 1058.0C918.7 1058.2 916.7 1058.4 914.7 1058.5C912.7 1058.7 910.7 1058.8 908.7 1059.0C906.7 1059.2 904.7 1059.3 902.7 1059.5C900.7 1059.6 898.7 1059.8 896.7 1060.0C894.7 1060.1 892.7 1060.3 890.8 1060.4C888.8 1060.6 886.8 1060.7 884.8 1060.9C882.8 1061.1 880.8 1061.2 878.8 1061.4C876.8 1061.5 874.8 1061.7 872.8 1061.9C870.8 1062.0 868.8 1062.2 866.8 1062.3C864.8 1062.5 862.8 1062.7 860.8 1062.8C858.8 1063.0 856.9 1063.2 854.9 1063.3C852.9 1063.5 850.9 1063.6 848.9 1063.8C846.9 1064.0 844.9 1064.1 842.9 1064.3C840.9 1064.5 838.9 1064.6 836.9 1064.8C834.9 1065.0 833.0 1065.1 831.0 1065.3C829.0 1065.5 827.0 1065.6 825.0 1065.8"/><path d="M170.6 1179.0C172.6 1178.7 174.6 1178.3 176.5 1178.0C178.5 1177.7 180.5 1177.4 182.5 1177.1C184.5 1176.8 186.5 1176.5 188.4 1176.3C190.4 1176.0 192.4 1175.7 194.4 1175.4C196.4 1175.1 198.4 1174.9 200.4 1174.6C202.3 1174.3 204.3 1174.1 206.3 1173.8C208.3 1173.5 210.3 1173.3 212.3 1173.0C214.3 1172.8 216.2 1172.5 218.2 1172.3C220.2 1172.1 222.2 1171.8 224.2 1171.6C226.2 1171.4 228.2 1171.1 230.2 1170.9C232.2 1170.7 234.2 1170.5 236.1 1170.2C238.1 1170.0 240.1 1169.8 242.1 1169.6C244.1 1169.4 246.1 1169.2 248.1 1169.0C250.1 1168.8 252.1 1168.6 254.1 1168.4C256.1 1168.2 258.1 1168.0 260.1 1167.8C262.1 1167.7 264.0 1167.5 266.0 1167.3C268.0 1167.1 270.0 1166.9 272.0 1166.8C274.0 1166.6 276.0 1166.4 278.0 1166.3C280.0 1166.1 282.0 1166.0 284.0 1165.8C286.0 1165.6 288.0 1165.5 290.0 1165.3C292.0 1165.2 294.0 1165.0 296.0 1164.9C298.0 1164.8 300.0 1164.6 302.0 1164.5C304.0 1164.3 306.0 1164.2 308.0 1164.1C310.0 1163.9 312.0 1163.8 314.0 1163.7C316.0 1163.6 318.0 1163.4 320.0 1163.3C322.0 1163.2 324.0 1163.1 326.0 1163.0C328.0 1162.9 330.0 1162.7 332.0 1162.6C334.0 1162.5 336.0 1162.4 338.0 1162.3C340.0 1162.2 342.0 1162.1 344.0 1162.0C346.0 1161.9 348.0 1161.8 350.0 1161.7C352.0 1161.6 354.0 1161.5 356.0 1161.4C358.0 1161.4 360.0 1161.3 362.0 1161.2C364.0 1161.1 366.0 1161.0 368.0 1160.9C370.0 1160.9 372.0 1160.8 374.0 1160.7C376.0 1160.6 378.0 1160.5 380.1 1160.5C382.1 1160.4 384.1 1160.3 386.1 1160.3C388.1 1160.2 390.1 1160.1 392.1 1160.0C394.1 1160.0 396.1 1159.9 398.1 1159.8C400.1 1159.8 402.1 1159.7 404.1 1159.7C406.1 1159.6 408.1 1159.5 410.1 1159.5C412.1 1159.4 414.1 1159.4 416.2 1159.3C418.2 1159.3 420.2 1159.2 422.2 1159.1C424.2 1159.1 426.2 1159.0 428.2 1159.0C430.2 1158.9 432.2 1158.9 434.2 1158.8C436.2 1158.8 438.2 1158.7 440.2 1158.7C442.2 1158.6 444.2 1158.6 446.3 1158.6C448.3 1158.5 450.3 1158.5 452.3 1158.4C454.3 1158.4 456.3 1158.3 458.3 1158.3C460.3 1158.2 462.3 1158.2 464.3 1158.2C466.3 1158.1 468.3 1158.1 470.3 1158.0C472.4 1158.0 474.4 1158.0 476.4 1157.9C478.4 1157.9 480.4 1157.8 482.4 1157.8C484.4 1157.8 486.4 1157.7 488.4 1157.7C490.4 1157.6 492.4 1157.6 494.4 1157.6C496.4 1157.5 498.5 1157.5 500.5 1157.4C502.5 1157.4 504.5 1157.4 506.5 1157.3C508.5 1157.3 510.5 1157.2 512.5 1157.2C514.5 1157.2 516.5 1157.1 518.5 1157.1C520.5 1157.0 522.6 1157.0 524.6 1157.0C526.6 1156.9 528.6 1156.9 530.6 1156.8C532.6 1156.8 534.6 1156.7 536.6 1156.7C538.6 1156.6 540.6 1156.6 542.6 1156.6C544.6 1156.5 546.6 1156.5 548.6 1156.4C550.7 1156.4 552.7 1156.3 554.7 1156.3C556.7 1156.2 558.7 1156.2 560.7 1156.1C562.7 1156.1 564.7 1156.0 566.7 1156.0C568.7 1155.9 570.7 1155.9 572.7 1155.8C574.7 1155.8 576.7 1155.7 578.8 1155.7C580.8 1155.6 582.8 1155.5 584.8 1155.5C586.8 1155.4 588.8 1155.4 590.8 1155.3C592.8 1155.3 594.8 1155.2 596.8 1155.2C598.8 1155.1 600.8 1155.0 602.8 1155.0C604.8 1154.9 606.8 1154.9 608.8 1154.8C610.9 1154.7 612.9 1154.7 614.9 1154.6C616.9 1154.6 618.9 1154.5 620.9 1154.4C622.9 1154.4 624.9 1154.3 626.9 1154.2C628.9 1154.2 630.9 1154.1 632.9 1154.0C634.9 1154.0 636.9 1153.9 638.9 1153.8C640.9 1153.8 642.9 1153.7 645.0 1153.7C647.0 1153.6 649.0 1153.5 651.0 1153.4C653.0 1153.4 655.0 1153.3 657.0 1153.2C659.0 1153.2 661.0 1153.1 663.0 1153.0C665.0 1153.0 667.0 1152.9 669.0 1152.8C671.0 1152.8 673.0 1152.7 675.0 1152.6C677.0 1152.5 679.0 1152.5 681.0 1152.4C683.0 1152.3 685.1 1152.3 687.1 1152.2C689.1 1152.1 691.1 1152.0 693.1 1152.0C695.1 1151.9 697.1 1151.8 699.1 1151.7C701.1 1151.7 703.1 1151.6 705.1 1151.5C707.1 1151.4 709.1 1151.4 711.1 1151.3C713.1 1151.2 715.1 1151.1 717.1 1151.1C719.1 1151.0 721.1 1150.9 723.1 1150.8C725.1 1150.7 727.2 1150.7 729.2 1150.6C731.2 1150.5 733.2 1150.4 735.2 1150.4C737.2 1150.3 739.2 1150.2 741.2 1150.1C743.2 1150.0 745.2 1150.0 747.2 1149.9C749.2 1149.8 751.2 1149.7 753.2 1149.6C755.2 1149.6 757.2 1149.5 759.2 1149.4C761.2 1149.3 763.2 1149.2 765.2 1149.2C767.2 1149.1 769.2 1149.0 771.2 1148.9C773.2 1148.8 775.3 1148.7 777.3 1148.7C779.3 1148.6 781.3 1148.5 783.3 1148.4C785.3 1148.3 787.3 1148.2 789.3 1148.2C791.3 1148.1 793.3 1148.0 795.3 1147.9C797.3 1147.8 799.3 1147.8 801.3 1147.7C803.3 1147.6 805.3 1147.5 807.3 1147.4C809.3 1147.3 811.3 1147.2 813.3 1147.2C815.3 1147.1 817.3 1147.0 819.3 1146.9C821.3 1146.8 823.3 1146.7 825.3 1146.7C827.4 1146.6 829.4 1146.5 831.4 1146.4C833.4 1146.3 835.4 1146.2 837.4 1146.2C839.4 1146.1 841.4 1146.0 843.4 1145.9C845.4 1145.8 847.4 1145.7 849.4 1145.6C851.4 1145.6 853.4 1145.5 855.4 1145.4C857.4 1145.3 859.4 1145.2 861.4 1145.1C863.4 1145.1 865.4 1145.0 867.4 1144.9C869.4 1144.8 871.4 1144.7 873.4 1144.6C875.4 1144.5 877.4 1144.5 879.5 1144.4C881.5 1144.3 883.5 1144.2 885.5 1144.1C887.5 1144.0 889.5 1144.0 891.5 1143.9C893.5 1143.8 895.5 1143.7 897.5 1143.6C899.5 1143.5 901.5 1143.5 903.5 1143.4C905.5 1143.3 907.5 1143.2 909.5 1143.1C911.5 1143.0 913.5 1143.0 915.5 1142.9C917.5 1142.8 919.5 1142.7 921.5 1142.6C923.5 1142.5 925.5 1142.5 927.5 1142.4C929.5 1142.3 931.6 1142.2 933.6 1142.1C935.6 1142.0 937.6 1142.0 939.6 1141.9C941.6 1141.8 943.6 1141.7 945.6 1141.6C947.6 1141.5 949.6 1141.5 951.6 1141.4C953.6 1141.3 955.6 1141.2 957.6 1141.1C959.6 1141.1 961.6 1141.0 963.6 1140.9C965.6 1140.8 967.6 1140.7 969.6 1140.7C971.6 1140.6 973.6 1140.5 975.6 1140.4C977.6 1140.3 979.7 1140.3 981.7 1140.2C983.7 1140.1 985.7 1140.0 987.7 1139.9C989.7 1139.9 991.7 1139.8 993.7 1139.7C995.7 1139.6 997.7 1139.6 999.7 1139.5C1001.7 1139.4 1003.7 1139.3 1005.7 1139.3C1007.7 1139.2 1009.7 1139.1 1011.7 1139.0C1013.7 1139.0 1015.7 1138.9 1017.7 1138.8C1019.7 1138.7 1021.7 1138.7 1023.7 1138.6C1025.8 1138.5 1027.8 1138.4 1029.8 1138.4C1031.8 1138.3 1033.8 1138.2 1035.8 1138.1C1037.8 1138.1 1039.8 1138.0 1041.8 1137.9C1043.8 1137.8 1045.8 1137.8 1047.8 1137.7C1049.8 1137.6 1051.8 1137.5 1053.8 1137.5C1055.8 1137.4 1057.8 1137.3 1059.8 1137.2C1061.8 1137.2 1063.8 1137.1 1065.8 1137.0C1067.9 1136.9 1069.9 1136.9 1071.9 1136.8C1073.9 1136.7 1075.9 1136.6 1077.9 1136.5C1079.9 1136.5 1081.9 1136.4 1083.9 1136.3C1085.9 1136.2 1087.9 1136.1 1089.9 1136.1C1091.9 1136.0 1093.9 1135.9 1095.9 1135.8C1097.9 1135.7 1099.9 1135.7 1101.9 1135.6C1103.9 1135.5 1105.9 1135.4 1107.9 1135.3C1109.9 1135.2 1111.9 1135.1 1114.0 1135.1C1116.0 1135.0 1118.0 1134.9 1120.0 1134.8C1122.0 1134.7 1124.0 1134.6 1126.0 1134.5C1128.0 1134.4 1130.0 1134.3 1132.0 1134.3C1134.0 1134.2 1136.0 1134.1 1138.0 1134.0C1140.0 1133.9 1142.0 1133.8 1144.0 1133.7C1146.0 1133.6 1148.0 1133.5 1150.0 1133.4C1152.0 1133.3 1154.0 1133.2 1156.0 1133.1C1158.0 1133.0 1160.0 1132.9 1162.0 1132.8C1164.0 1132.7 1166.0 1132.5 1168.0 1132.4C1170.0 1132.3 1172.0 1132.2 1174.0 1132.1C1176.0 1132.0 1178.0 1131.9 1180.0 1131.8C1182.0 1131.6 1184.0 1131.5 1186.0 1131.4C1188.0 1131.3 1190.0 1131.2 1192.1 1131.0C1194.1 1130.9 1196.1 1130.8 1198.1 1130.7C1200.1 1130.5 1202.1 1130.4 1204.1 1130.3C1206.1 1130.1 1208.1 1130.0 1210.1 1129.9C1212.1 1129.7 1214.1 1129.6 1216.1 1129.5C1218.1 1129.3 1220.1 1129.2 1222.1 1129.0C1224.1 1128.9 1226.1 1128.7 1228.1 1128.6C1230.1 1128.4 1232.0 1128.3 1234.0 1128.1C1236.0 1128.0 1238.0 1127.8 1240.0 1127.7C1242.0 1127.5 1244.0 1127.4 1246.0 1127.2C1248.0 1127.0 1250.0 1126.9 1252.0 1126.7C1254.0 1126.5 1256.0 1126.4 1258.0 1126.2C1260.0 1126.0 1262.0 1125.8 1264.0 1125.7C1266.0 1125.5 1268.0 1125.3 1270.0 1125.1C1272.0 1124.9 1274.0 1124.7 1276.0 1124.6C1278.0 1124.4 1280.0 1124.2 1282.0 1124.0C1284.0 1123.8 1286.0 1123.6 1288.0 1123.4C1290.0 1123.2 1292.0 1123.0 1293.9 1122.8C1295.9 1122.6 1297.9 1122.3 1299.9 1122.1C1301.9 1121.9 1303.9 1121.7 1305.9 1121.5C1307.9 1121.3 1309.9 1121.0 1311.9 1120.8C1313.9 1120.6 1315.9 1120.4 1317.9 1120.1C1319.9 1119.9 1321.9 1119.6 1323.8 1119.4C1325.8 1119.2 1327.8 1118.9 1329.8 1118.7C1331.8 1118.4 1333.8 1118.2 1335.8 1117.9C1337.8 1117.7 1339.8 1117.4 1341.8 1117.1C1343.8 1116.9 1345.7 1116.6 1347.7 1116.4C1349.7 1116.1 1351.7 1115.8 1353.7 1115.5C1355.7 1115.3 1357.7 1115.0 1359.7 1114.7C1361.7 1114.4 1363.6 1114.1 1365.6 1113.8C1367.6 1113.5 1369.6 1113.2 1371.6 1112.9C1373.6 1112.6 1375.6 1112.3 1377.6 1112.0C1379.5 1111.7 1381.5 1111.4 1383.5 1111.1C1385.5 1110.8 1387.5 1110.5 1389.5 1110.1C1391.5 1109.8 1393.4 1109.5 1395.4 1109.1C1397.4 1108.8 1399.4 1108.5 1401.4 1108.1C1403.4 1107.8 1405.3 1107.4 1407.3 1107.1C1409.3 1106.7 1411.3 1106.4 1413.3 1106.0C1415.3 1105.7 1417.2 1105.3 1419.2 1104.9C1421.2 1104.6 1423.2 1104.2 1425.1 1103.8C1427.1 1103.4 1429.1 1103.0 1431.1 1102.7C1433.1 1102.3 1435.0 1101.9 1437.0 1101.5C1439.0 1101.1 1440.9 1100.7 1442.9 1100.3C1444.9 1099.9 1446.8 1099.5 1448.8 1099.0C1450.8 1098.6 1452.7 1098.2 1454.7 1097.8C1456.7 1097.3 1458.6 1096.9 1460.6 1096.5C1462.5 1096.0 1464.5 1095.6 1466.4 1095.2C1468.4 1094.7 1470.3 1094.3 1472.3 1093.8C1474.2 1093.3 1476.2 1092.9 1478.1 1092.4C1480.1 1091.9 1482.0 1091.5 1483.9 1091.0C1485.9 1090.5 1487.8 1090.0 1489.7 1089.5C1491.6 1089.0 1493.6 1088.5 1495.5 1088.0C1497.4 1087.5 1499.3 1087.0 1501.2 1086.4C1503.2 1085.9 1505.1 1085.4 1507.0 1084.8C1508.9 1084.2 1510.8 1083.7 1512.7 1083.1C1514.6 1082.5 1516.5 1081.9 1518.3 1081.3C1520.2 1080.7 1522.1 1080.1 1524.0 1079.4C1525.9 1078.8 1527.7 1078.2 1529.6 1077.5C1531.5 1076.8 1533.3 1076.1 1535.2 1075.4C1537.1 1074.7 1538.9 1074.0 1540.8 1073.3C1542.6 1072.6 1544.5 1071.8 1546.3 1071.0C1548.1 1070.3 1550.0 1069.5 1551.8 1068.7C1553.6 1067.9 1555.4 1067.0 1557.2 1066.2C1559.0 1065.3 1560.8 1064.4 1562.6 1063.5C1564.4 1062.7 1566.2 1061.7 1568.0 1060.8C1569.8 1059.9 1571.6 1058.9 1573.3 1057.9C1575.1 1057.0 1576.9 1056.0 1578.6 1054.9C1580.3 1053.9 1582.1 1052.9 1583.8 1051.8C1585.5 1050.8 1587.3 1049.7 1589.0 1048.6C1590.7 1047.5 1592.4 1046.4 1594.1 1045.3C1595.7 1044.2 1597.4 1043.0 1599.1 1041.8C1600.7 1040.7 1602.4 1039.5 1604.0 1038.3C1605.7 1037.1 1607.3 1035.9 1608.9 1034.6C1610.5 1033.4 1612.1 1032.1 1613.7 1030.9C1615.2 1029.6 1616.8 1028.3 1618.4 1027.0C1619.9 1025.7 1621.5 1024.3 1623.0 1023.0C1624.5 1021.7 1626.0 1020.3 1627.5 1018.9C1629.0 1017.6 1630.4 1016.2 1631.9 1014.8C1633.3 1013.4 1634.8 1011.9 1636.2 1010.5C1637.6 1009.0 1639.0 1007.6 1640.4 1006.1C1641.8 1004.7 1643.1 1003.2 1644.5 1001.7C1645.8 1000.2 1647.1 998.7 1648.4 997.1C1649.8 995.6 1651.0 994.0 1652.3 992.5C1653.6 990.9 1654.8 989.4 1656.0 987.8C1657.2 986.2 1658.4 984.6 1659.6 983.0C1660.8 981.3 1661.9 979.7 1663.1 978.1C1664.2 976.4 1665.3 974.8 1666.4 973.1C1667.5 971.4 1668.5 969.7 1669.5 968.1C1670.6 966.4 1671.6 964.6 1672.6 962.9C1673.6 961.2 1674.5 959.5 1675.5 957.7C1676.4 956.0 1677.3 954.2 1678.2 952.5C1679.1 950.7 1680.0 948.9 1680.9 947.1C1681.7 945.4 1682.6 943.6 1683.4 941.8C1684.2 940.0 1685.0 938.1 1685.8 936.3C1686.7 934.5 1687.4 932.7 1688.2 930.8C1689.0 929.0 1689.7 927.2 1690.5 925.3C1691.2 923.5 1692.0 921.6 1692.7 919.8C1693.4 917.9 1694.2 916.0 1694.9 914.2C1695.6 912.3 1696.3 910.4 1697.0 908.5C1697.7 906.7 1698.4 904.8 1699.1 902.9C1699.8 901.0 1700.5 899.1 1701.2 897.2C1701.8 895.4 1702.5 893.5 1703.2 891.6C1703.9 889.7 1704.6 887.8 1705.3 885.9C1706.0 884.0 1706.6 882.1 1707.3 880.2C1708.0 878.3 1708.7 876.4 1709.4 874.5C1710.1 872.6 1710.8 870.7 1711.5 868.9C1712.2 867.0 1713.0 865.1 1713.7 863.2C1714.4 861.3 1715.1 859.4 1715.9 857.5C1716.6 855.7 1717.3 853.8 1718.0 851.9C1718.8 850.0 1719.5 848.1 1720.2 846.2C1721.0 844.4 1721.7 842.5 1722.4 840.6C1723.1 838.7 1723.8 836.8 1724.6 835.0C1725.3 833.1 1726.0 831.2 1726.7 829.3C1727.4 827.4 1728.1 825.5 1728.7 823.7C1729.4 821.8 1730.1 819.9 1730.7 818.0C1731.4 816.1 1732.0 814.2 1732.7 812.3C1733.3 810.4 1733.9 808.5 1734.5 806.6C1735.1 804.8 1735.7 802.9 1736.3 801.0C1736.8 799.1 1737.4 797.1 1737.9 795.2C1738.4 793.3 1738.9 791.4 1739.4 789.5C1739.9 787.6 1740.4 785.7 1740.8 783.8C1741.3 781.8 1741.7 779.9 1742.1 778.0C1742.5 776.1 1742.8 774.1 1743.2 772.2C1743.5 770.2 1743.8 768.3 1744.1 766.4C1744.4 764.4 1744.6 762.5 1744.8 760.5L1744.8 760.5C1743.3 761.8 1741.8 763.1 1740.2 764.4C1738.7 765.7 1737.1 767.0 1735.6 768.3C1734.0 769.5 1732.4 770.8 1730.9 772.1C1729.4 773.4 1727.8 774.7 1726.3 776.0C1724.9 777.4 1723.4 778.8 1722.0 780.2L1722.0 780.2C1721.0 781.9 1719.9 783.7 1718.9 785.4C1717.9 787.1 1716.8 788.8 1715.8 790.5C1714.7 792.3 1713.7 794.0 1712.7 795.7C1711.6 797.4 1710.6 799.1 1709.6 800.8C1708.5 802.5 1707.5 804.2 1706.5 806.0C1705.4 807.7 1704.4 809.4 1703.4 811.1C1702.3 812.8 1701.3 814.5 1700.3 816.2C1699.2 817.9 1698.2 819.6 1697.2 821.3C1696.2 823.0 1695.1 824.8 1694.1 826.5C1693.1 828.2 1692.1 829.9 1691.0 831.6C1690.0 833.4 1689.0 835.1 1688.0 836.8C1687.0 838.5 1686.0 840.3 1684.9 842.0C1683.9 843.7 1682.9 845.5 1681.9 847.2C1680.9 849.0 1679.9 850.7 1678.9 852.5C1677.9 854.2 1676.9 856.0 1675.9 857.8C1674.9 859.5 1673.9 861.3 1672.9 863.1C1671.9 864.8 1670.9 866.6 1669.9 868.4C1668.8 870.1 1667.8 871.9 1666.8 873.6C1665.7 875.3 1664.7 877.1 1663.6 878.8C1662.6 880.5 1661.5 882.2 1660.4 883.9C1659.3 885.6 1658.2 887.3 1657.1 888.9C1655.9 890.6 1654.8 892.2 1653.6 893.8C1652.4 895.4 1651.2 897.0 1650.0 898.5C1648.7 900.1 1647.5 901.6 1646.2 903.1C1644.9 904.6 1643.6 906.1 1642.3 907.5C1640.9 909.0 1639.6 910.4 1638.2 911.8C1636.8 913.2 1635.4 914.6 1634.0 916.0C1632.6 917.3 1631.1 918.7 1629.7 920.0C1628.2 921.3 1626.7 922.6 1625.2 924.0C1623.8 925.3 1622.3 926.6 1620.8 927.9C1619.2 929.1 1617.7 930.4 1616.2 931.7C1614.7 933.0 1613.1 934.2 1611.6 935.5C1610.1 936.8 1608.5 938.1 1607.0 939.3C1605.4 940.6 1603.9 941.9 1602.3 943.1C1600.8 944.4 1599.2 945.7 1597.6 946.9C1596.1 948.2 1594.5 949.5 1593.0 950.7C1591.4 952.0 1589.8 953.3 1588.2 954.5C1586.7 955.8 1585.1 957.1 1583.5 958.3C1581.9 959.6 1580.4 960.8 1578.8 962.1C1577.2 963.3 1575.6 964.6 1574.0 965.8C1572.4 967.1 1570.8 968.3 1569.2 969.5C1567.6 970.8 1566.0 972.0 1564.4 973.2C1562.7 974.4 1561.1 975.7 1559.5 976.9C1557.9 978.1 1556.2 979.3 1554.6 980.5C1553.0 981.6 1551.3 982.8 1549.7 984.0C1548.1 985.2 1546.4 986.3 1544.8 987.5C1543.1 988.6 1541.4 989.8 1539.8 990.9C1538.1 992.1 1536.4 993.2 1534.8 994.3C1533.1 995.4 1531.4 996.5 1529.7 997.6C1528.0 998.7 1526.4 999.8 1524.7 1000.9C1523.0 1001.9 1521.3 1003.0 1519.6 1004.0C1517.8 1005.1 1516.1 1006.1 1514.4 1007.2C1512.7 1008.2 1511.0 1009.2 1509.3 1010.3C1507.5 1011.3 1505.8 1012.3 1504.1 1013.3C1502.3 1014.3 1500.6 1015.3 1498.8 1016.2C1497.1 1017.2 1495.4 1018.2 1493.6 1019.1C1491.8 1020.1 1490.1 1021.1 1488.3 1022.0C1486.6 1022.9 1484.8 1023.9 1483.0 1024.8C1481.3 1025.7 1479.5 1026.6 1477.7 1027.6C1475.9 1028.5 1474.1 1029.4 1472.4 1030.2C1470.6 1031.1 1468.8 1032.0 1467.0 1032.9C1465.2 1033.8 1463.4 1034.6 1461.6 1035.5C1459.8 1036.3 1458.0 1037.2 1456.1 1038.0C1454.3 1038.9 1452.5 1039.7 1450.7 1040.5C1448.9 1041.3 1447.1 1042.2 1445.2 1043.0C1443.4 1043.8 1441.6 1044.6 1439.7 1045.4C1437.9 1046.1 1436.1 1046.9 1434.2 1047.7C1432.4 1048.5 1430.5 1049.2 1428.7 1050.0C1426.8 1050.8 1425.0 1051.5 1423.1 1052.3C1421.3 1053.0 1419.4 1053.7 1417.6 1054.5C1415.7 1055.2 1413.8 1055.9 1412.0 1056.6C1410.1 1057.3 1408.2 1058.0 1406.4 1058.7C1404.5 1059.4 1402.6 1060.1 1400.7 1060.8C1398.8 1061.5 1397.0 1062.2 1395.1 1062.8C1393.2 1063.5 1391.3 1064.2 1389.4 1064.8C1387.5 1065.5 1385.6 1066.1 1383.7 1066.8C1381.8 1067.4 1379.9 1068.1 1378.0 1068.7C1376.1 1069.3 1374.2 1069.9 1372.3 1070.5C1370.4 1071.2 1368.5 1071.8 1366.6 1072.4C1364.7 1073.0 1362.8 1073.6 1360.8 1074.2C1358.9 1074.7 1357.0 1075.3 1355.1 1075.9C1353.2 1076.5 1351.2 1077.1 1349.3 1077.6C1347.4 1078.2 1345.5 1078.7 1343.5 1079.3C1341.6 1079.8 1339.7 1080.4 1337.7 1080.9C1335.8 1081.5 1333.9 1082.0 1331.9 1082.5C1330.0 1083.1 1328.1 1083.6 1326.1 1084.1C1324.2 1084.6 1322.2 1085.1 1320.3 1085.6C1318.3 1086.1 1316.4 1086.6 1314.5 1087.1C1312.5 1087.6 1310.6 1088.1 1308.6 1088.6C1306.7 1089.1 1304.7 1089.6 1302.8 1090.0C1300.8 1090.5 1298.8 1091.0 1296.9 1091.4C1294.9 1091.9 1293.0 1092.3 1291.0 1092.8C1289.1 1093.3 1287.1 1093.7 1285.1 1094.1C1283.2 1094.6 1281.2 1095.0 1279.3 1095.4C1277.3 1095.9 1275.3 1096.3 1273.4 1096.7C1271.4 1097.2 1269.4 1097.6 1267.5 1098.0C1265.5 1098.4 1263.5 1098.8 1261.6 1099.2C1259.6 1099.6 1257.6 1100.0 1255.7 1100.4C1253.7 1100.8 1251.7 1101.2 1249.8 1101.6C1247.8 1102.0 1245.8 1102.4 1243.9 1102.7C1241.9 1103.1 1239.9 1103.5 1237.9 1103.9C1236.0 1104.2 1234.0 1104.6 1232.0 1105.0C1230.0 1105.3 1228.1 1105.7 1226.1 1106.0C1224.1 1106.4 1222.1 1106.7 1220.2 1107.1C1218.2 1107.4 1216.2 1107.8 1214.2 1108.1C1212.3 1108.4 1210.3 1108.8 1208.3 1109.1C1206.3 1109.4 1204.3 1109.8 1202.4 1110.1C1200.4 1110.4 1198.4 1110.7 1196.4 1111.0C1194.4 1111.3 1192.5 1111.7 1190.5 1112.0C1188.5 1112.3 1186.5 1112.6 1184.5 1112.9C1182.5 1113.2 1180.6 1113.5 1178.6 1113.8C1176.6 1114.1 1174.6 1114.4 1172.6 1114.6C1170.6 1114.9 1168.7 1115.2 1166.7 1115.5C1164.7 1115.8 1162.7 1116.1 1160.7 1116.3C1158.7 1116.6 1156.7 1116.9 1154.7 1117.1C1152.8 1117.4 1150.8 1117.7 1148.8 1117.9C1146.8 1118.2 1144.8 1118.5 1142.8 1118.7C1140.8 1119.0 1138.8 1119.2 1136.8 1119.5C1134.8 1119.7 1132.9 1120.0 1130.9 1120.2C1128.9 1120.5 1126.9 1120.7 1124.9 1121.0C1122.9 1121.2 1120.9 1121.4 1118.9 1121.7C1116.9 1121.9 1114.9 1122.1 1112.9 1122.4C1110.9 1122.6 1108.9 1122.8 1106.9 1123.0C1105.0 1123.3 1103.0 1123.5 1101.0 1123.7C1099.0 1123.9 1097.0 1124.1 1095.0 1124.4C1093.0 1124.6 1091.0 1124.8 1089.0 1125.0C1087.0 1125.2 1085.0 1125.4 1083.0 1125.6C1081.0 1125.8 1079.0 1126.0 1077.0 1126.2C1075.0 1126.4 1073.0 1126.6 1071.0 1126.8C1069.0 1127.0 1067.0 1127.2 1065.0 1127.4C1063.0 1127.6 1061.0 1127.8 1059.0 1128.0C1057.0 1128.2 1055.0 1128.4 1053.0 1128.6C1051.0 1128.7 1049.0 1128.9 1047.0 1129.1C1045.0 1129.3 1043.0 1129.5 1041.0 1129.6C1039.0 1129.8 1037.0 1130.0 1035.0 1130.2C1033.0 1130.4 1031.0 1130.5 1029.0 1130.7C1027.0 1130.9 1025.0 1131.1 1023.0 1131.2C1021.0 1131.4 1019.0 1131.6 1017.0 1131.7C1015.0 1131.9 1013.0 1132.1 1011.0 1132.2C1009.0 1132.4 1007.0 1132.6 1005.0 1132.7C1003.0 1132.9 1001.0 1133.1 999.0 1133.2C997.0 1133.4 995.0 1133.5 993.0 1133.7C991.0 1133.9 989.0 1134.0 987.0 1134.2C985.0 1134.3 983.0 1134.5 981.0 1134.6C979.0 1134.8 977.0 1134.9 975.0 1135.1C973.0 1135.3 971.0 1135.4 969.0 1135.6C967.0 1135.7 965.0 1135.9 963.0 1136.0C961.0 1136.2 959.0 1136.3 957.0 1136.5C955.0 1136.6 953.0 1136.8 951.0 1136.9C948.9 1137.1 946.9 1137.2 944.9 1137.4C942.9 1137.5 940.9 1137.7 938.9 1137.8C936.9 1138.0 934.9 1138.1 932.9 1138.3C930.9 1138.4 928.9 1138.6 926.9 1138.7C924.9 1138.9 922.9 1139.0 920.9 1139.1C918.9 1139.3 916.9 1139.4 914.9 1139.6C912.9 1139.7 910.9 1139.9 908.9 1140.0C906.9 1140.2 904.9 1140.3 902.9 1140.5C900.9 1140.6 898.9 1140.8 896.9 1140.9C894.9 1141.1 892.9 1141.2 890.9 1141.4C888.9 1141.5 886.9 1141.7 884.9 1141.8C882.9 1142.0 880.9 1142.1 878.9 1142.3C876.9 1142.4 874.9 1142.6 872.9 1142.7C870.9 1142.9 868.9 1143.0 866.9 1143.2C864.9 1143.3 862.9 1143.5 860.9 1143.6C858.9 1143.8 856.9 1143.9 854.9 1144.1C852.9 1144.3 850.9 1144.4 848.9 1144.6C847.0 1144.7 845.0 1144.9 843.0 1145.0C841.0 1145.2 839.0 1145.4 837.0 1145.5C835.0 1145.7 833.0 1145.9 831.0 1146.0C829.0 1146.2 827.0 1146.4 825.0 1146.5"/></g>
<text class="lb" x="599.9" y="499">(a)</text>
<text class="lb" x="609.4" y="642">(b)</text>
<text class="lb" x="613.6" y="759">(c)</text>
<text class="lb" x="617.6" y="902.3">(d)</text>
<text class="lb" x="621.8" y="1041">(e)</text>
<text class="lb" x="621.8" y="1228.3">(f)</text>
<text class="ax" transform="translate(643.5 1448.6) scale(1 1.03)" font-size="74.5">Relative pressure (P/P<tspan font-size="45.6" dy="28">0</tspan><tspan dy="-28">)</tspan></text>
<text class="ax" transform="translate(77.8 1076.6) rotate(-90)" x="0" y="0" font-size="75.3">Volume adsorbed (cm<tspan font-size="44.6" dy="-42.7">3</tspan><tspan dy="42.7">/g)</tspan></text>
</svg>
</body></html>
